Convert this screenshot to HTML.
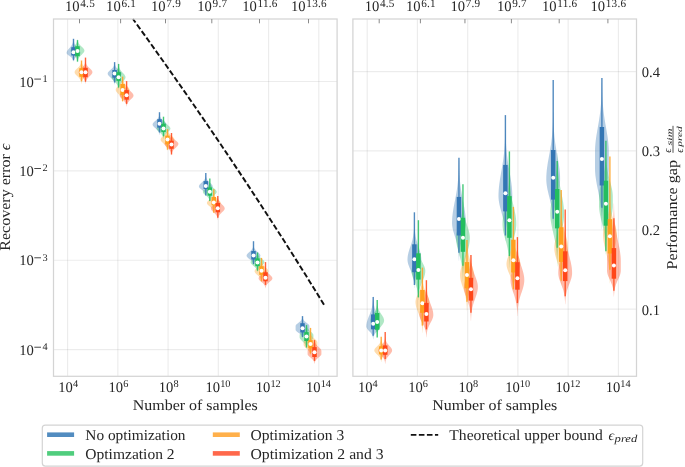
<!DOCTYPE html><html><head><meta charset="utf-8"><style>html,body{margin:0;padding:0;background:#fff;}svg{display:block;will-change:transform;}text{font-family:"Liberation Serif",serif;fill:#262626;text-rendering:geometricPrecision;}</style></head><body>
<svg width="685" height="467" viewBox="0 0 685 467">
<defs><clipPath id="c0"><rect x="53.5" y="19" width="283.6" height="357.3"/></clipPath></defs>
<line x1="67.60" y1="19.0" x2="67.60" y2="376.3" stroke="#000" stroke-opacity="0.075" stroke-width="1.2"/>
<line x1="117.84" y1="19.0" x2="117.84" y2="376.3" stroke="#000" stroke-opacity="0.075" stroke-width="1.2"/>
<line x1="168.08" y1="19.0" x2="168.08" y2="376.3" stroke="#000" stroke-opacity="0.075" stroke-width="1.2"/>
<line x1="218.32" y1="19.0" x2="218.32" y2="376.3" stroke="#000" stroke-opacity="0.075" stroke-width="1.2"/>
<line x1="268.56" y1="19.0" x2="268.56" y2="376.3" stroke="#000" stroke-opacity="0.075" stroke-width="1.2"/>
<line x1="318.80" y1="19.0" x2="318.80" y2="376.3" stroke="#000" stroke-opacity="0.075" stroke-width="1.2"/>
<line x1="53.5" y1="81.50" x2="337.1" y2="81.50" stroke="#000" stroke-opacity="0.075" stroke-width="1.2"/>
<line x1="53.5" y1="170.87" x2="337.1" y2="170.87" stroke="#000" stroke-opacity="0.075" stroke-width="1.2"/>
<line x1="53.5" y1="260.24" x2="337.1" y2="260.24" stroke="#000" stroke-opacity="0.075" stroke-width="1.2"/>
<line x1="53.5" y1="349.61" x2="337.1" y2="349.61" stroke="#000" stroke-opacity="0.075" stroke-width="1.2"/>
<line x1="367.20" y1="19.0" x2="367.20" y2="376.3" stroke="#000" stroke-opacity="0.075" stroke-width="1.2"/>
<line x1="417.44" y1="19.0" x2="417.44" y2="376.3" stroke="#000" stroke-opacity="0.075" stroke-width="1.2"/>
<line x1="467.68" y1="19.0" x2="467.68" y2="376.3" stroke="#000" stroke-opacity="0.075" stroke-width="1.2"/>
<line x1="517.92" y1="19.0" x2="517.92" y2="376.3" stroke="#000" stroke-opacity="0.075" stroke-width="1.2"/>
<line x1="568.16" y1="19.0" x2="568.16" y2="376.3" stroke="#000" stroke-opacity="0.075" stroke-width="1.2"/>
<line x1="618.40" y1="19.0" x2="618.40" y2="376.3" stroke="#000" stroke-opacity="0.075" stroke-width="1.2"/>
<line x1="352.9" y1="309.20" x2="636.5" y2="309.20" stroke="#000" stroke-opacity="0.075" stroke-width="1.2"/>
<line x1="352.9" y1="230.00" x2="636.5" y2="230.00" stroke="#000" stroke-opacity="0.075" stroke-width="1.2"/>
<line x1="352.9" y1="150.80" x2="636.5" y2="150.80" stroke="#000" stroke-opacity="0.075" stroke-width="1.2"/>
<line x1="352.9" y1="71.60" x2="636.5" y2="71.60" stroke="#000" stroke-opacity="0.075" stroke-width="1.2"/>
<path d="M73.60,39.08 L73.63,39.45 L73.66,39.82 L73.70,40.20 L73.74,40.57 L73.79,40.94 L73.86,41.31 L73.93,41.69 L74.01,42.06 L74.11,42.43 L74.22,42.80 L74.35,43.17 L74.49,43.55 L74.65,43.92 L74.83,44.29 L75.03,44.66 L75.24,45.03 L75.47,45.41 L75.73,45.78 L75.99,46.15 L76.28,46.52 L76.57,46.90 L76.88,47.27 L77.20,47.64 L77.52,48.01 L77.85,48.38 L78.17,48.76 L78.48,49.13 L78.79,49.50 L79.08,49.87 L79.35,50.24 L79.60,50.62 L79.82,50.99 L80.01,51.36 L80.16,51.73 L80.28,52.11 L80.36,52.48 L80.40,52.85 L80.40,53.00 L80.38,53.22 L80.26,53.59 L80.03,53.97 L79.70,54.34 L79.30,54.71 L78.83,55.08 L78.32,55.46 L77.79,55.83 L77.25,56.20 L76.73,56.57 L76.24,56.94 L75.78,57.32 L75.37,57.69 L75.01,58.06 L74.69,58.43 L74.43,58.80 L74.21,59.18 L74.04,59.55 L73.90,59.92 L73.79,60.29 L73.71,60.67 L73.65,61.04 L73.60,61.41 L73.40,61.41 L73.35,61.04 L73.29,60.67 L73.21,60.29 L73.10,59.92 L72.96,59.55 L72.79,59.18 L72.57,58.80 L72.31,58.43 L71.99,58.06 L71.63,57.69 L71.22,57.32 L70.76,56.94 L70.27,56.57 L69.75,56.20 L69.21,55.83 L68.68,55.46 L68.17,55.08 L67.70,54.71 L67.30,54.34 L66.97,53.97 L66.74,53.59 L66.62,53.22 L66.60,53.00 L66.60,52.85 L66.64,52.48 L66.72,52.11 L66.84,51.73 L66.99,51.36 L67.18,50.99 L67.40,50.62 L67.65,50.24 L67.92,49.87 L68.21,49.50 L68.52,49.13 L68.83,48.76 L69.15,48.38 L69.48,48.01 L69.80,47.64 L70.12,47.27 L70.43,46.90 L70.72,46.52 L71.01,46.15 L71.27,45.78 L71.53,45.41 L71.76,45.03 L71.97,44.66 L72.17,44.29 L72.35,43.92 L72.51,43.55 L72.65,43.17 L72.78,42.80 L72.89,42.43 L72.99,42.06 L73.07,41.69 L73.14,41.31 L73.21,40.94 L73.26,40.57 L73.30,40.20 L73.34,39.82 L73.37,39.45 L73.40,39.08Z" fill="#3476b4" fill-opacity="0.36"/>
<path d="M77.60,39.29 L77.64,39.67 L77.68,40.06 L77.73,40.44 L77.80,40.83 L77.88,41.21 L77.98,41.59 L78.10,41.98 L78.24,42.36 L78.41,42.74 L78.60,43.13 L78.82,43.51 L79.07,43.90 L79.36,44.28 L79.67,44.66 L80.00,45.05 L80.37,45.43 L80.75,45.81 L81.15,46.20 L81.56,46.58 L81.97,46.97 L82.37,47.35 L82.77,47.73 L83.13,48.12 L83.47,48.50 L83.76,48.88 L84.01,49.27 L84.20,49.65 L84.33,50.04 L84.39,50.42 L84.40,50.60 L84.39,50.80 L84.33,51.19 L84.20,51.57 L84.02,51.95 L83.79,52.34 L83.51,52.72 L83.19,53.11 L82.84,53.49 L82.47,53.87 L82.08,54.26 L81.68,54.64 L81.29,55.02 L80.90,55.41 L80.52,55.79 L80.16,56.18 L79.82,56.56 L79.51,56.94 L79.23,57.33 L78.97,57.71 L78.73,58.09 L78.53,58.48 L78.35,58.86 L78.20,59.25 L78.07,59.63 L77.96,60.01 L77.86,60.40 L77.79,60.78 L77.73,61.16 L77.68,61.55 L77.63,61.93 L77.60,62.32 L77.40,62.32 L77.37,61.93 L77.32,61.55 L77.27,61.16 L77.21,60.78 L77.14,60.40 L77.04,60.01 L76.93,59.63 L76.80,59.25 L76.65,58.86 L76.47,58.48 L76.27,58.09 L76.03,57.71 L75.77,57.33 L75.49,56.94 L75.18,56.56 L74.84,56.18 L74.48,55.79 L74.10,55.41 L73.71,55.02 L73.32,54.64 L72.92,54.26 L72.53,53.87 L72.16,53.49 L71.81,53.11 L71.49,52.72 L71.21,52.34 L70.98,51.95 L70.80,51.57 L70.67,51.19 L70.61,50.80 L70.60,50.60 L70.61,50.42 L70.67,50.04 L70.80,49.65 L70.99,49.27 L71.24,48.88 L71.53,48.50 L71.87,48.12 L72.23,47.73 L72.63,47.35 L73.03,46.97 L73.44,46.58 L73.85,46.20 L74.25,45.81 L74.63,45.43 L75.00,45.05 L75.33,44.66 L75.64,44.28 L75.93,43.90 L76.18,43.51 L76.40,43.13 L76.59,42.74 L76.76,42.36 L76.90,41.98 L77.02,41.59 L77.12,41.21 L77.20,40.83 L77.27,40.44 L77.32,40.06 L77.36,39.67 L77.40,39.29Z" fill="#23be5f" fill-opacity="0.36"/>
<path d="M81.60,60.77 L81.64,61.16 L81.68,61.54 L81.73,61.92 L81.80,62.31 L81.87,62.69 L81.97,63.07 L82.09,63.46 L82.23,63.84 L82.39,64.22 L82.58,64.61 L82.79,64.99 L83.04,65.37 L83.31,65.76 L83.61,66.14 L83.94,66.52 L84.30,66.91 L84.67,67.29 L85.07,67.67 L85.47,68.06 L85.88,68.44 L86.28,68.82 L86.67,69.21 L87.04,69.59 L87.38,69.97 L87.68,70.36 L87.94,70.74 L88.15,71.12 L88.29,71.51 L88.38,71.89 L88.40,72.20 L88.40,72.27 L88.36,72.66 L88.25,73.04 L88.08,73.42 L87.86,73.81 L87.59,74.19 L87.28,74.57 L86.94,74.96 L86.56,75.34 L86.17,75.72 L85.77,76.11 L85.37,76.49 L84.98,76.87 L84.59,77.26 L84.23,77.64 L83.88,78.02 L83.56,78.41 L83.27,78.79 L83.00,79.17 L82.76,79.55 L82.55,79.94 L82.37,80.32 L82.21,80.70 L82.08,81.09 L81.96,81.47 L81.87,81.85 L81.79,82.24 L81.73,82.62 L81.68,83.00 L81.64,83.39 L81.60,83.77 L81.40,83.77 L81.36,83.39 L81.32,83.00 L81.27,82.62 L81.21,82.24 L81.13,81.85 L81.04,81.47 L80.92,81.09 L80.79,80.70 L80.63,80.32 L80.45,79.94 L80.24,79.55 L80.00,79.17 L79.73,78.79 L79.44,78.41 L79.12,78.02 L78.77,77.64 L78.41,77.26 L78.02,76.87 L77.63,76.49 L77.23,76.11 L76.83,75.72 L76.44,75.34 L76.06,74.96 L75.72,74.57 L75.41,74.19 L75.14,73.81 L74.92,73.42 L74.75,73.04 L74.64,72.66 L74.60,72.27 L74.60,72.20 L74.62,71.89 L74.71,71.51 L74.85,71.12 L75.06,70.74 L75.32,70.36 L75.62,69.97 L75.96,69.59 L76.33,69.21 L76.72,68.82 L77.12,68.44 L77.53,68.06 L77.93,67.67 L78.33,67.29 L78.70,66.91 L79.06,66.52 L79.39,66.14 L79.69,65.76 L79.96,65.37 L80.21,64.99 L80.42,64.61 L80.61,64.22 L80.77,63.84 L80.91,63.46 L81.03,63.07 L81.13,62.69 L81.20,62.31 L81.27,61.92 L81.32,61.54 L81.36,61.16 L81.40,60.77Z" fill="#ffa01e" fill-opacity="0.36"/>
<path d="M85.60,60.77 L85.64,61.16 L85.68,61.54 L85.73,61.92 L85.80,62.31 L85.87,62.69 L85.97,63.07 L86.09,63.46 L86.23,63.84 L86.39,64.22 L86.58,64.61 L86.79,64.99 L87.04,65.37 L87.31,65.76 L87.61,66.14 L87.94,66.52 L88.30,66.91 L88.67,67.29 L89.07,67.67 L89.47,68.06 L89.88,68.44 L90.28,68.82 L90.67,69.21 L91.04,69.59 L91.38,69.97 L91.68,70.36 L91.94,70.74 L92.15,71.12 L92.29,71.51 L92.38,71.89 L92.40,72.20 L92.40,72.27 L92.36,72.66 L92.25,73.04 L92.08,73.42 L91.86,73.81 L91.59,74.19 L91.28,74.57 L90.94,74.96 L90.56,75.34 L90.17,75.72 L89.77,76.11 L89.37,76.49 L88.98,76.87 L88.59,77.26 L88.23,77.64 L87.88,78.02 L87.56,78.41 L87.27,78.79 L87.00,79.17 L86.76,79.55 L86.55,79.94 L86.37,80.32 L86.21,80.70 L86.08,81.09 L85.96,81.47 L85.87,81.85 L85.79,82.24 L85.73,82.62 L85.68,83.00 L85.64,83.39 L85.60,83.77 L85.40,83.77 L85.36,83.39 L85.32,83.00 L85.27,82.62 L85.21,82.24 L85.13,81.85 L85.04,81.47 L84.92,81.09 L84.79,80.70 L84.63,80.32 L84.45,79.94 L84.24,79.55 L84.00,79.17 L83.73,78.79 L83.44,78.41 L83.12,78.02 L82.77,77.64 L82.41,77.26 L82.02,76.87 L81.63,76.49 L81.23,76.11 L80.83,75.72 L80.44,75.34 L80.06,74.96 L79.72,74.57 L79.41,74.19 L79.14,73.81 L78.92,73.42 L78.75,73.04 L78.64,72.66 L78.60,72.27 L78.60,72.20 L78.62,71.89 L78.71,71.51 L78.85,71.12 L79.06,70.74 L79.32,70.36 L79.62,69.97 L79.96,69.59 L80.33,69.21 L80.72,68.82 L81.12,68.44 L81.53,68.06 L81.93,67.67 L82.33,67.29 L82.70,66.91 L83.06,66.52 L83.39,66.14 L83.69,65.76 L83.96,65.37 L84.21,64.99 L84.42,64.61 L84.61,64.22 L84.77,63.84 L84.91,63.46 L85.03,63.07 L85.13,62.69 L85.20,62.31 L85.27,61.92 L85.32,61.54 L85.36,61.16 L85.40,60.77Z" fill="#ff4619" fill-opacity="0.36"/>
<path d="M114.70,62.99 L114.74,63.35 L114.78,63.71 L114.83,64.07 L114.90,64.43 L114.98,64.79 L115.08,65.15 L115.20,65.51 L115.34,65.87 L115.51,66.23 L115.70,66.59 L115.93,66.95 L116.18,67.31 L116.46,67.67 L116.77,68.03 L117.11,68.39 L117.47,68.76 L117.86,69.12 L118.26,69.48 L118.67,69.84 L119.08,70.20 L119.48,70.56 L119.88,70.92 L120.24,71.28 L120.58,71.64 L120.87,72.00 L121.12,72.36 L121.30,72.72 L121.43,73.08 L121.49,73.44 L121.50,73.60 L121.49,73.80 L121.42,74.16 L121.30,74.52 L121.12,74.88 L120.88,75.25 L120.60,75.61 L120.28,75.97 L119.93,76.33 L119.56,76.69 L119.17,77.05 L118.78,77.41 L118.38,77.77 L117.99,78.13 L117.61,78.49 L117.26,78.85 L116.92,79.21 L116.61,79.57 L116.32,79.93 L116.06,80.29 L115.83,80.65 L115.63,81.01 L115.45,81.37 L115.30,81.74 L115.17,82.10 L115.06,82.46 L114.96,82.82 L114.89,83.18 L114.83,83.54 L114.78,83.90 L114.73,84.26 L114.70,84.62 L114.50,84.62 L114.47,84.26 L114.42,83.90 L114.37,83.54 L114.31,83.18 L114.24,82.82 L114.14,82.46 L114.03,82.10 L113.90,81.74 L113.75,81.37 L113.57,81.01 L113.37,80.65 L113.14,80.29 L112.88,79.93 L112.59,79.57 L112.28,79.21 L111.94,78.85 L111.59,78.49 L111.21,78.13 L110.82,77.77 L110.42,77.41 L110.03,77.05 L109.64,76.69 L109.27,76.33 L108.92,75.97 L108.60,75.61 L108.32,75.25 L108.08,74.88 L107.90,74.52 L107.78,74.16 L107.71,73.80 L107.70,73.60 L107.71,73.44 L107.77,73.08 L107.90,72.72 L108.08,72.36 L108.33,72.00 L108.62,71.64 L108.96,71.28 L109.32,70.92 L109.72,70.56 L110.12,70.20 L110.53,69.84 L110.94,69.48 L111.34,69.12 L111.73,68.76 L112.09,68.39 L112.43,68.03 L112.74,67.67 L113.02,67.31 L113.27,66.95 L113.50,66.59 L113.69,66.23 L113.86,65.87 L114.00,65.51 L114.12,65.15 L114.22,64.79 L114.30,64.43 L114.37,64.07 L114.42,63.71 L114.46,63.35 L114.50,62.99Z" fill="#3476b4" fill-opacity="0.36"/>
<path d="M118.70,64.34 L118.73,64.76 L118.77,65.17 L118.82,65.59 L118.88,66.01 L118.96,66.43 L119.05,66.85 L119.15,67.26 L119.28,67.68 L119.43,68.10 L119.60,68.52 L119.80,68.94 L120.02,69.35 L120.27,69.77 L120.55,70.19 L120.85,70.61 L121.18,71.03 L121.53,71.44 L121.89,71.86 L122.27,72.28 L122.66,72.70 L123.05,73.12 L123.44,73.53 L123.81,73.95 L124.17,74.37 L124.49,74.79 L124.78,75.21 L125.03,75.63 L125.23,76.04 L125.38,76.46 L125.47,76.88 L125.50,77.30 L125.50,77.30 L125.47,77.72 L125.36,78.13 L125.20,78.55 L124.97,78.97 L124.69,79.39 L124.36,79.81 L124.00,80.22 L123.61,80.64 L123.20,81.06 L122.79,81.48 L122.37,81.90 L121.96,82.31 L121.57,82.73 L121.19,83.15 L120.84,83.57 L120.52,83.99 L120.23,84.41 L119.97,84.82 L119.74,85.24 L119.53,85.66 L119.36,86.08 L119.21,86.50 L119.09,86.91 L118.99,87.33 L118.90,87.75 L118.83,88.17 L118.78,88.59 L118.74,89.00 L118.70,89.42 L118.50,89.42 L118.46,89.00 L118.42,88.59 L118.37,88.17 L118.30,87.75 L118.21,87.33 L118.11,86.91 L117.99,86.50 L117.84,86.08 L117.67,85.66 L117.46,85.24 L117.23,84.82 L116.97,84.41 L116.68,83.99 L116.36,83.57 L116.01,83.15 L115.63,82.73 L115.24,82.31 L114.83,81.90 L114.41,81.48 L114.00,81.06 L113.59,80.64 L113.20,80.22 L112.84,79.81 L112.51,79.39 L112.23,78.97 L112.00,78.55 L111.84,78.13 L111.73,77.72 L111.70,77.30 L111.70,77.30 L111.73,76.88 L111.82,76.46 L111.97,76.04 L112.17,75.63 L112.42,75.21 L112.71,74.79 L113.03,74.37 L113.39,73.95 L113.76,73.53 L114.15,73.12 L114.54,72.70 L114.93,72.28 L115.31,71.86 L115.67,71.44 L116.02,71.03 L116.35,70.61 L116.65,70.19 L116.93,69.77 L117.18,69.35 L117.40,68.94 L117.60,68.52 L117.77,68.10 L117.92,67.68 L118.05,67.26 L118.15,66.85 L118.24,66.43 L118.32,66.01 L118.38,65.59 L118.43,65.17 L118.47,64.76 L118.50,64.34Z" fill="#23be5f" fill-opacity="0.36"/>
<path d="M122.70,78.23 L122.74,78.62 L122.78,79.02 L122.83,79.41 L122.90,79.81 L122.98,80.20 L123.08,80.60 L123.20,80.99 L123.35,81.39 L123.52,81.78 L123.71,82.18 L123.94,82.57 L124.19,82.97 L124.48,83.36 L124.79,83.76 L125.13,84.15 L125.50,84.55 L125.89,84.94 L126.29,85.34 L126.70,85.73 L127.12,86.13 L127.52,86.52 L127.91,86.92 L128.28,87.31 L128.61,87.71 L128.90,88.10 L129.14,88.50 L129.32,88.89 L129.44,89.29 L129.50,89.68 L129.50,89.80 L129.49,90.08 L129.41,90.47 L129.28,90.87 L129.09,91.26 L128.85,91.66 L128.57,92.05 L128.25,92.44 L127.90,92.84 L127.52,93.23 L127.14,93.63 L126.74,94.02 L126.35,94.42 L125.96,94.81 L125.59,95.21 L125.23,95.60 L124.90,96.00 L124.59,96.39 L124.31,96.79 L124.05,97.18 L123.82,97.58 L123.62,97.97 L123.44,98.37 L123.29,98.76 L123.16,99.16 L123.05,99.55 L122.96,99.95 L122.89,100.34 L122.82,100.74 L122.77,101.13 L122.73,101.53 L122.70,101.92 L122.50,101.92 L122.47,101.53 L122.43,101.13 L122.38,100.74 L122.31,100.34 L122.24,99.95 L122.15,99.55 L122.04,99.16 L121.91,98.76 L121.76,98.37 L121.58,97.97 L121.38,97.58 L121.15,97.18 L120.89,96.79 L120.61,96.39 L120.30,96.00 L119.97,95.60 L119.61,95.21 L119.24,94.81 L118.85,94.42 L118.46,94.02 L118.06,93.63 L117.68,93.23 L117.30,92.84 L116.95,92.44 L116.63,92.05 L116.35,91.66 L116.11,91.26 L115.92,90.87 L115.79,90.47 L115.71,90.08 L115.70,89.80 L115.70,89.68 L115.76,89.29 L115.88,88.89 L116.06,88.50 L116.30,88.10 L116.59,87.71 L116.92,87.31 L117.29,86.92 L117.68,86.52 L118.08,86.13 L118.50,85.73 L118.91,85.34 L119.31,84.94 L119.70,84.55 L120.07,84.15 L120.41,83.76 L120.72,83.36 L121.01,82.97 L121.26,82.57 L121.49,82.18 L121.68,81.78 L121.85,81.39 L122.00,80.99 L122.12,80.60 L122.22,80.20 L122.30,79.81 L122.37,79.41 L122.42,79.02 L122.46,78.62 L122.50,78.23Z" fill="#ffa01e" fill-opacity="0.36"/>
<path d="M126.70,83.62 L126.73,84.01 L126.77,84.39 L126.82,84.77 L126.88,85.16 L126.96,85.54 L127.04,85.92 L127.15,86.31 L127.27,86.69 L127.42,87.07 L127.59,87.46 L127.78,87.84 L128.00,88.22 L128.24,88.61 L128.52,88.99 L128.81,89.37 L129.14,89.76 L129.48,90.14 L129.84,90.52 L130.22,90.91 L130.60,91.29 L130.99,91.67 L131.37,92.06 L131.75,92.44 L132.10,92.82 L132.43,93.21 L132.73,93.59 L132.98,93.97 L133.19,94.35 L133.35,94.74 L133.45,95.12 L133.50,95.50 L133.50,95.60 L133.48,95.89 L133.39,96.27 L133.24,96.65 L133.02,97.04 L132.75,97.42 L132.43,97.80 L132.07,98.19 L131.68,98.57 L131.27,98.95 L130.85,99.34 L130.43,99.72 L130.02,100.10 L129.62,100.49 L129.24,100.87 L128.88,101.25 L128.55,101.64 L128.26,102.02 L127.99,102.40 L127.75,102.79 L127.55,103.17 L127.37,103.55 L127.22,103.94 L127.10,104.32 L126.99,104.70 L126.91,105.09 L126.84,105.47 L126.78,105.85 L126.74,106.24 L126.70,106.62 L126.50,106.62 L126.46,106.24 L126.42,105.85 L126.36,105.47 L126.29,105.09 L126.21,104.70 L126.10,104.32 L125.98,103.94 L125.83,103.55 L125.65,103.17 L125.45,102.79 L125.21,102.40 L124.94,102.02 L124.65,101.64 L124.32,101.25 L123.96,100.87 L123.58,100.49 L123.18,100.10 L122.77,99.72 L122.35,99.34 L121.93,98.95 L121.52,98.57 L121.13,98.19 L120.77,97.80 L120.45,97.42 L120.18,97.04 L119.96,96.65 L119.81,96.27 L119.72,95.89 L119.70,95.60 L119.70,95.50 L119.75,95.12 L119.85,94.74 L120.01,94.35 L120.22,93.97 L120.47,93.59 L120.77,93.21 L121.10,92.82 L121.45,92.44 L121.83,92.06 L122.21,91.67 L122.60,91.29 L122.98,90.91 L123.36,90.52 L123.72,90.14 L124.06,89.76 L124.39,89.37 L124.68,88.99 L124.96,88.61 L125.20,88.22 L125.42,87.84 L125.61,87.46 L125.78,87.07 L125.93,86.69 L126.05,86.31 L126.16,85.92 L126.24,85.54 L126.32,85.16 L126.38,84.77 L126.43,84.39 L126.47,84.01 L126.50,83.62Z" fill="#ff4619" fill-opacity="0.36"/>
<path d="M159.60,114.03 L159.64,114.38 L159.68,114.73 L159.73,115.08 L159.79,115.43 L159.87,115.78 L159.97,116.12 L160.08,116.47 L160.22,116.82 L160.38,117.17 L160.56,117.52 L160.78,117.87 L161.02,118.22 L161.29,118.57 L161.59,118.92 L161.91,119.27 L162.26,119.61 L162.63,119.96 L163.02,120.31 L163.42,120.66 L163.82,121.01 L164.23,121.36 L164.62,121.71 L164.99,122.06 L165.33,122.41 L165.64,122.76 L165.90,123.10 L166.12,123.45 L166.27,123.80 L166.37,124.15 L166.40,124.50 L166.37,124.85 L166.27,125.20 L166.12,125.55 L165.90,125.90 L165.64,126.24 L165.33,126.59 L164.99,126.94 L164.62,127.29 L164.23,127.64 L163.82,127.99 L163.42,128.34 L163.02,128.69 L162.63,129.04 L162.26,129.39 L161.91,129.73 L161.59,130.08 L161.29,130.43 L161.02,130.78 L160.78,131.13 L160.56,131.48 L160.38,131.83 L160.22,132.18 L160.08,132.53 L159.97,132.88 L159.87,133.22 L159.79,133.57 L159.73,133.92 L159.68,134.27 L159.64,134.62 L159.60,134.97 L159.40,134.97 L159.36,134.62 L159.32,134.27 L159.27,133.92 L159.21,133.57 L159.13,133.22 L159.03,132.88 L158.92,132.53 L158.78,132.18 L158.62,131.83 L158.44,131.48 L158.22,131.13 L157.98,130.78 L157.71,130.43 L157.41,130.08 L157.09,129.73 L156.74,129.39 L156.37,129.04 L155.98,128.69 L155.58,128.34 L155.18,127.99 L154.77,127.64 L154.38,127.29 L154.01,126.94 L153.67,126.59 L153.36,126.24 L153.10,125.90 L152.88,125.55 L152.73,125.20 L152.63,124.85 L152.60,124.50 L152.63,124.15 L152.73,123.80 L152.88,123.45 L153.10,123.10 L153.36,122.76 L153.67,122.41 L154.01,122.06 L154.38,121.71 L154.77,121.36 L155.18,121.01 L155.58,120.66 L155.98,120.31 L156.37,119.96 L156.74,119.61 L157.09,119.27 L157.41,118.92 L157.71,118.57 L157.98,118.22 L158.22,117.87 L158.44,117.52 L158.62,117.17 L158.78,116.82 L158.92,116.47 L159.03,116.12 L159.13,115.78 L159.21,115.43 L159.27,115.08 L159.32,114.73 L159.36,114.38 L159.40,114.03Z" fill="#3476b4" fill-opacity="0.36"/>
<path d="M163.60,117.99 L163.64,118.33 L163.68,118.68 L163.73,119.03 L163.79,119.38 L163.87,119.73 L163.96,120.08 L164.07,120.43 L164.20,120.78 L164.36,121.13 L164.54,121.48 L164.74,121.82 L164.98,122.17 L165.24,122.52 L165.53,122.87 L165.84,123.22 L166.18,123.57 L166.54,123.92 L166.92,124.27 L167.32,124.62 L167.71,124.97 L168.11,125.31 L168.50,125.66 L168.87,126.01 L169.22,126.36 L169.54,126.71 L169.81,127.06 L170.04,127.41 L170.22,127.76 L170.34,128.11 L170.39,128.46 L170.40,128.60 L170.39,128.80 L170.32,129.15 L170.18,129.50 L169.99,129.85 L169.74,130.20 L169.44,130.55 L169.10,130.90 L168.73,131.25 L168.34,131.60 L167.94,131.94 L167.53,132.29 L167.12,132.64 L166.72,132.99 L166.34,133.34 L165.98,133.69 L165.65,134.04 L165.34,134.39 L165.06,134.74 L164.81,135.09 L164.59,135.43 L164.40,135.78 L164.24,136.13 L164.10,136.48 L163.98,136.83 L163.88,137.18 L163.80,137.53 L163.73,137.88 L163.68,138.23 L163.64,138.58 L163.60,138.92 L163.40,138.92 L163.36,138.58 L163.32,138.23 L163.27,137.88 L163.20,137.53 L163.12,137.18 L163.02,136.83 L162.90,136.48 L162.76,136.13 L162.60,135.78 L162.41,135.43 L162.19,135.09 L161.94,134.74 L161.66,134.39 L161.35,134.04 L161.02,133.69 L160.66,133.34 L160.28,132.99 L159.88,132.64 L159.47,132.29 L159.06,131.94 L158.66,131.60 L158.27,131.25 L157.90,130.90 L157.56,130.55 L157.26,130.20 L157.01,129.85 L156.82,129.50 L156.68,129.15 L156.61,128.80 L156.60,128.60 L156.61,128.46 L156.66,128.11 L156.78,127.76 L156.96,127.41 L157.19,127.06 L157.46,126.71 L157.78,126.36 L158.13,126.01 L158.50,125.66 L158.89,125.31 L159.29,124.97 L159.68,124.62 L160.08,124.27 L160.46,123.92 L160.82,123.57 L161.16,123.22 L161.47,122.87 L161.76,122.52 L162.02,122.17 L162.26,121.82 L162.46,121.48 L162.64,121.13 L162.80,120.78 L162.93,120.43 L163.04,120.08 L163.13,119.73 L163.21,119.38 L163.27,119.03 L163.32,118.68 L163.36,118.33 L163.40,117.99Z" fill="#23be5f" fill-opacity="0.36"/>
<path d="M167.60,129.03 L167.64,129.39 L167.68,129.75 L167.73,130.11 L167.80,130.47 L167.89,130.83 L167.99,131.19 L168.11,131.55 L168.26,131.92 L168.43,132.28 L168.63,132.64 L168.86,133.00 L169.12,133.36 L169.41,133.72 L169.73,134.08 L170.08,134.44 L170.46,134.80 L170.85,135.16 L171.26,135.52 L171.68,135.88 L172.09,136.24 L172.50,136.60 L172.89,136.96 L173.25,137.32 L173.58,137.68 L173.86,138.05 L174.09,138.41 L174.26,138.77 L174.36,139.13 L174.40,139.49 L174.40,139.50 L174.37,139.85 L174.28,140.21 L174.14,140.57 L173.94,140.93 L173.69,141.29 L173.40,141.65 L173.08,142.01 L172.72,142.37 L172.35,142.73 L171.96,143.09 L171.57,143.45 L171.18,143.81 L170.80,144.17 L170.43,144.54 L170.08,144.90 L169.76,145.26 L169.45,145.62 L169.18,145.98 L168.92,146.34 L168.70,146.70 L168.50,147.06 L168.33,147.42 L168.18,147.78 L168.06,148.14 L167.95,148.50 L167.86,148.86 L167.78,149.22 L167.72,149.58 L167.67,149.94 L167.63,150.30 L167.60,150.66 L167.40,150.66 L167.37,150.30 L167.33,149.94 L167.28,149.58 L167.22,149.22 L167.14,148.86 L167.05,148.50 L166.94,148.14 L166.82,147.78 L166.67,147.42 L166.50,147.06 L166.30,146.70 L166.08,146.34 L165.82,145.98 L165.55,145.62 L165.24,145.26 L164.92,144.90 L164.57,144.54 L164.20,144.17 L163.82,143.81 L163.43,143.45 L163.04,143.09 L162.65,142.73 L162.28,142.37 L161.92,142.01 L161.60,141.65 L161.31,141.29 L161.06,140.93 L160.86,140.57 L160.72,140.21 L160.63,139.85 L160.60,139.50 L160.60,139.49 L160.64,139.13 L160.74,138.77 L160.91,138.41 L161.14,138.05 L161.42,137.68 L161.75,137.32 L162.11,136.96 L162.50,136.60 L162.91,136.24 L163.32,135.88 L163.74,135.52 L164.15,135.16 L164.54,134.80 L164.92,134.44 L165.27,134.08 L165.59,133.72 L165.88,133.36 L166.14,133.00 L166.37,132.64 L166.57,132.28 L166.74,131.92 L166.89,131.55 L167.01,131.19 L167.11,130.83 L167.20,130.47 L167.27,130.11 L167.32,129.75 L167.36,129.39 L167.40,129.03Z" fill="#ffa01e" fill-opacity="0.36"/>
<path d="M171.60,134.29 L171.64,134.64 L171.69,134.99 L171.75,135.33 L171.82,135.68 L171.92,136.03 L172.03,136.38 L172.18,136.73 L172.35,137.08 L172.55,137.43 L172.78,137.78 L173.05,138.13 L173.35,138.48 L173.68,138.82 L174.05,139.17 L174.45,139.52 L174.87,139.87 L175.30,140.22 L175.75,140.57 L176.19,140.92 L176.62,141.27 L177.03,141.62 L177.40,141.97 L177.73,142.31 L178.00,142.66 L178.20,143.01 L178.34,143.36 L178.40,143.71 L178.40,143.80 L178.39,144.06 L178.32,144.41 L178.20,144.76 L178.03,145.11 L177.82,145.45 L177.56,145.80 L177.27,146.15 L176.95,146.50 L176.61,146.85 L176.26,147.20 L175.89,147.55 L175.52,147.90 L175.15,148.25 L174.79,148.60 L174.44,148.94 L174.11,149.29 L173.80,149.64 L173.51,149.99 L173.24,150.34 L173.00,150.69 L172.78,151.04 L172.58,151.39 L172.41,151.74 L172.26,152.09 L172.13,152.43 L172.01,152.78 L171.92,153.13 L171.84,153.48 L171.77,153.83 L171.71,154.18 L171.67,154.53 L171.63,154.88 L171.60,155.23 L171.40,155.23 L171.37,154.88 L171.33,154.53 L171.29,154.18 L171.23,153.83 L171.16,153.48 L171.08,153.13 L170.99,152.78 L170.87,152.43 L170.74,152.09 L170.59,151.74 L170.42,151.39 L170.22,151.04 L170.00,150.69 L169.76,150.34 L169.49,149.99 L169.20,149.64 L168.89,149.29 L168.56,148.94 L168.21,148.60 L167.85,148.25 L167.48,147.90 L167.11,147.55 L166.74,147.20 L166.39,146.85 L166.05,146.50 L165.73,146.15 L165.44,145.80 L165.18,145.45 L164.97,145.11 L164.80,144.76 L164.68,144.41 L164.61,144.06 L164.60,143.80 L164.60,143.71 L164.66,143.36 L164.80,143.01 L165.00,142.66 L165.27,142.31 L165.60,141.97 L165.97,141.62 L166.38,141.27 L166.81,140.92 L167.25,140.57 L167.70,140.22 L168.13,139.87 L168.55,139.52 L168.95,139.17 L169.32,138.82 L169.65,138.48 L169.95,138.13 L170.22,137.78 L170.45,137.43 L170.65,137.08 L170.82,136.73 L170.97,136.38 L171.08,136.03 L171.18,135.68 L171.25,135.33 L171.31,134.99 L171.36,134.64 L171.40,134.29Z" fill="#ff4619" fill-opacity="0.36"/>
<path d="M205.90,175.34 L205.93,175.67 L205.97,176.01 L206.01,176.35 L206.07,176.68 L206.13,177.02 L206.21,177.36 L206.31,177.70 L206.41,178.03 L206.54,178.37 L206.69,178.71 L206.86,179.05 L207.05,179.38 L207.26,179.72 L207.50,180.06 L207.76,180.40 L208.05,180.73 L208.35,181.07 L208.68,181.41 L209.02,181.74 L209.37,182.08 L209.74,182.42 L210.10,182.76 L210.47,183.09 L210.82,183.43 L211.17,183.77 L211.49,184.11 L211.78,184.44 L212.05,184.78 L212.27,185.12 L212.45,185.46 L212.58,185.79 L212.67,186.13 L212.70,186.47 L212.70,186.50 L212.67,186.81 L212.56,187.14 L212.37,187.48 L212.11,187.82 L211.80,188.15 L211.43,188.49 L211.03,188.83 L210.60,189.17 L210.15,189.50 L209.70,189.84 L209.26,190.18 L208.83,190.52 L208.42,190.85 L208.04,191.19 L207.70,191.53 L207.39,191.87 L207.11,192.20 L206.87,192.54 L206.67,192.88 L206.49,193.22 L206.34,193.55 L206.22,193.89 L206.13,194.23 L206.05,194.56 L205.99,194.90 L205.94,195.24 L205.90,195.58 L205.70,195.58 L205.66,195.24 L205.61,194.90 L205.55,194.56 L205.47,194.23 L205.38,193.89 L205.26,193.55 L205.11,193.22 L204.93,192.88 L204.73,192.54 L204.49,192.20 L204.21,191.87 L203.90,191.53 L203.56,191.19 L203.18,190.85 L202.77,190.52 L202.34,190.18 L201.90,189.84 L201.45,189.50 L201.00,189.17 L200.57,188.83 L200.17,188.49 L199.80,188.15 L199.49,187.82 L199.23,187.48 L199.04,187.14 L198.93,186.81 L198.90,186.50 L198.90,186.47 L198.93,186.13 L199.02,185.79 L199.15,185.46 L199.33,185.12 L199.55,184.78 L199.82,184.44 L200.11,184.11 L200.43,183.77 L200.78,183.43 L201.13,183.09 L201.50,182.76 L201.86,182.42 L202.23,182.08 L202.58,181.74 L202.92,181.41 L203.25,181.07 L203.55,180.73 L203.84,180.40 L204.10,180.06 L204.34,179.72 L204.55,179.38 L204.74,179.05 L204.91,178.71 L205.06,178.37 L205.19,178.03 L205.29,177.70 L205.39,177.36 L205.47,177.02 L205.53,176.68 L205.59,176.35 L205.63,176.01 L205.67,175.67 L205.70,175.34Z" fill="#3476b4" fill-opacity="0.36"/>
<path d="M209.90,181.58 L209.93,181.91 L209.98,182.25 L210.03,182.59 L210.09,182.93 L210.16,183.26 L210.26,183.60 L210.37,183.94 L210.50,184.27 L210.65,184.61 L210.83,184.95 L211.03,185.29 L211.26,185.62 L211.52,185.96 L211.80,186.30 L212.11,186.64 L212.45,186.97 L212.81,187.31 L213.18,187.65 L213.57,187.99 L213.97,188.32 L214.36,188.66 L214.75,189.00 L215.12,189.34 L215.47,189.67 L215.79,190.01 L216.07,190.35 L216.31,190.68 L216.49,191.02 L216.62,191.36 L216.69,191.70 L216.70,191.90 L216.69,192.03 L216.63,192.37 L216.51,192.71 L216.32,193.05 L216.08,193.38 L215.79,193.72 L215.45,194.06 L215.09,194.40 L214.70,194.73 L214.29,195.07 L213.88,195.41 L213.47,195.75 L213.07,196.08 L212.68,196.42 L212.32,196.76 L211.98,197.09 L211.66,197.43 L211.38,197.77 L211.13,198.11 L210.91,198.44 L210.71,198.78 L210.54,199.12 L210.40,199.46 L210.28,199.79 L210.18,200.13 L210.10,200.47 L210.03,200.81 L209.98,201.14 L209.94,201.48 L209.90,201.82 L209.70,201.82 L209.66,201.48 L209.62,201.14 L209.57,200.81 L209.50,200.47 L209.42,200.13 L209.32,199.79 L209.20,199.46 L209.06,199.12 L208.89,198.78 L208.69,198.44 L208.47,198.11 L208.22,197.77 L207.94,197.43 L207.62,197.09 L207.28,196.76 L206.92,196.42 L206.53,196.08 L206.13,195.75 L205.72,195.41 L205.31,195.07 L204.90,194.73 L204.51,194.40 L204.15,194.06 L203.81,193.72 L203.52,193.38 L203.28,193.05 L203.09,192.71 L202.97,192.37 L202.91,192.03 L202.90,191.90 L202.91,191.70 L202.98,191.36 L203.11,191.02 L203.29,190.68 L203.53,190.35 L203.81,190.01 L204.13,189.67 L204.48,189.34 L204.85,189.00 L205.24,188.66 L205.63,188.32 L206.03,187.99 L206.42,187.65 L206.79,187.31 L207.15,186.97 L207.49,186.64 L207.80,186.30 L208.08,185.96 L208.34,185.62 L208.57,185.29 L208.77,184.95 L208.95,184.61 L209.10,184.27 L209.23,183.94 L209.34,183.60 L209.44,183.26 L209.51,182.93 L209.57,182.59 L209.62,182.25 L209.67,181.91 L209.70,181.58Z" fill="#23be5f" fill-opacity="0.36"/>
<path d="M213.90,192.53 L213.93,192.87 L213.97,193.21 L214.02,193.54 L214.08,193.88 L214.16,194.22 L214.25,194.56 L214.35,194.89 L214.48,195.23 L214.63,195.57 L214.80,195.90 L215.00,196.24 L215.22,196.58 L215.47,196.92 L215.74,197.25 L216.05,197.59 L216.37,197.93 L216.72,198.27 L217.09,198.60 L217.47,198.94 L217.86,199.28 L218.25,199.62 L218.63,199.95 L219.01,200.29 L219.36,200.63 L219.69,200.97 L219.98,201.30 L220.23,201.64 L220.43,201.98 L220.58,202.31 L220.67,202.65 L220.70,202.99 L220.70,203.00 L220.67,203.33 L220.57,203.66 L220.40,204.00 L220.18,204.34 L219.90,204.68 L219.57,205.01 L219.21,205.35 L218.82,205.69 L218.41,206.03 L217.99,206.36 L217.58,206.70 L217.17,207.04 L216.77,207.38 L216.40,207.71 L216.05,208.05 L215.72,208.39 L215.43,208.72 L215.17,209.06 L214.94,209.40 L214.74,209.74 L214.56,210.07 L214.41,210.41 L214.29,210.75 L214.19,211.09 L214.10,211.42 L214.04,211.76 L213.98,212.10 L213.94,212.44 L213.90,212.77 L213.70,212.77 L213.66,212.44 L213.62,212.10 L213.56,211.76 L213.50,211.42 L213.41,211.09 L213.31,210.75 L213.19,210.41 L213.04,210.07 L212.86,209.74 L212.66,209.40 L212.43,209.06 L212.17,208.72 L211.88,208.39 L211.55,208.05 L211.20,207.71 L210.83,207.38 L210.43,207.04 L210.02,206.70 L209.61,206.36 L209.19,206.03 L208.78,205.69 L208.39,205.35 L208.03,205.01 L207.70,204.68 L207.42,204.34 L207.20,204.00 L207.03,203.66 L206.93,203.33 L206.90,203.00 L206.90,202.99 L206.93,202.65 L207.02,202.31 L207.17,201.98 L207.37,201.64 L207.62,201.30 L207.91,200.97 L208.24,200.63 L208.59,200.29 L208.97,199.95 L209.35,199.62 L209.74,199.28 L210.13,198.94 L210.51,198.60 L210.88,198.27 L211.23,197.93 L211.55,197.59 L211.86,197.25 L212.13,196.92 L212.38,196.58 L212.60,196.24 L212.80,195.90 L212.97,195.57 L213.12,195.23 L213.25,194.89 L213.35,194.56 L213.44,194.22 L213.52,193.88 L213.58,193.54 L213.63,193.21 L213.67,192.87 L213.70,192.53Z" fill="#ffa01e" fill-opacity="0.36"/>
<path d="M217.90,196.64 L217.93,197.02 L217.97,197.41 L218.02,197.79 L218.08,198.17 L218.16,198.56 L218.25,198.94 L218.36,199.33 L218.48,199.71 L218.63,200.09 L218.81,200.48 L219.01,200.86 L219.23,201.24 L219.48,201.63 L219.76,202.01 L220.07,202.40 L220.39,202.78 L220.75,203.16 L221.11,203.55 L221.50,203.93 L221.89,204.31 L222.28,204.70 L222.67,205.08 L223.04,205.47 L223.39,205.85 L223.72,206.23 L224.01,206.62 L224.25,207.00 L224.45,207.38 L224.59,207.77 L224.68,208.15 L224.70,208.50 L224.70,208.54 L224.66,208.92 L224.55,209.30 L224.38,209.69 L224.15,210.07 L223.87,210.45 L223.54,210.84 L223.17,211.22 L222.78,211.61 L222.38,211.99 L221.96,212.37 L221.54,212.76 L221.14,213.14 L220.74,213.52 L220.37,213.91 L220.03,214.29 L219.71,214.68 L219.42,215.06 L219.16,215.44 L218.93,215.83 L218.73,216.21 L218.56,216.59 L218.41,216.98 L218.29,217.36 L218.19,217.75 L218.10,218.13 L218.03,218.51 L217.98,218.90 L217.94,219.28 L217.90,219.66 L217.70,219.66 L217.66,219.28 L217.62,218.90 L217.57,218.51 L217.50,218.13 L217.41,217.75 L217.31,217.36 L217.19,216.98 L217.04,216.59 L216.87,216.21 L216.67,215.83 L216.44,215.44 L216.18,215.06 L215.89,214.68 L215.57,214.29 L215.23,213.91 L214.86,213.52 L214.46,213.14 L214.06,212.76 L213.64,212.37 L213.22,211.99 L212.82,211.61 L212.43,211.22 L212.06,210.84 L211.73,210.45 L211.45,210.07 L211.22,209.69 L211.05,209.30 L210.94,208.92 L210.90,208.54 L210.90,208.50 L210.92,208.15 L211.01,207.77 L211.15,207.38 L211.35,207.00 L211.59,206.62 L211.88,206.23 L212.21,205.85 L212.56,205.47 L212.93,205.08 L213.32,204.70 L213.71,204.31 L214.10,203.93 L214.49,203.55 L214.85,203.16 L215.21,202.78 L215.53,202.40 L215.84,202.01 L216.12,201.63 L216.37,201.24 L216.59,200.86 L216.79,200.48 L216.97,200.09 L217.12,199.71 L217.24,199.33 L217.35,198.94 L217.44,198.56 L217.52,198.17 L217.58,197.79 L217.63,197.41 L217.67,197.02 L217.70,196.64Z" fill="#ff4619" fill-opacity="0.36"/>
<path d="M253.60,244.97 L253.63,245.31 L253.67,245.64 L253.72,245.98 L253.78,246.32 L253.85,246.66 L253.93,246.99 L254.03,247.33 L254.15,247.67 L254.29,248.01 L254.46,248.34 L254.64,248.68 L254.85,249.02 L255.09,249.36 L255.35,249.69 L255.63,250.03 L255.94,250.37 L256.27,250.71 L256.62,251.04 L256.99,251.38 L257.37,251.72 L257.75,252.05 L258.13,252.39 L258.50,252.73 L258.86,253.07 L259.19,253.40 L259.50,253.74 L259.77,254.08 L260.00,254.42 L260.18,254.75 L260.31,255.09 L260.38,255.43 L260.40,255.70 L260.40,255.77 L260.35,256.10 L260.23,256.44 L260.04,256.78 L259.79,257.12 L259.48,257.45 L259.13,257.79 L258.75,258.13 L258.34,258.46 L257.91,258.80 L257.48,259.14 L257.06,259.48 L256.64,259.81 L256.25,260.15 L255.88,260.49 L255.53,260.83 L255.22,261.16 L254.94,261.50 L254.70,261.84 L254.48,262.18 L254.30,262.51 L254.14,262.85 L254.01,263.19 L253.90,263.53 L253.81,263.86 L253.74,264.20 L253.68,264.54 L253.64,264.87 L253.60,265.21 L253.40,265.21 L253.36,264.87 L253.32,264.54 L253.26,264.20 L253.19,263.86 L253.10,263.53 L252.99,263.19 L252.86,262.85 L252.70,262.51 L252.52,262.18 L252.30,261.84 L252.06,261.50 L251.78,261.16 L251.47,260.83 L251.12,260.49 L250.75,260.15 L250.36,259.81 L249.94,259.48 L249.52,259.14 L249.09,258.80 L248.66,258.46 L248.25,258.13 L247.87,257.79 L247.52,257.45 L247.21,257.12 L246.96,256.78 L246.77,256.44 L246.65,256.10 L246.60,255.77 L246.60,255.70 L246.62,255.43 L246.69,255.09 L246.82,254.75 L247.00,254.42 L247.23,254.08 L247.50,253.74 L247.81,253.40 L248.14,253.07 L248.50,252.73 L248.87,252.39 L249.25,252.05 L249.63,251.72 L250.01,251.38 L250.38,251.04 L250.73,250.71 L251.06,250.37 L251.37,250.03 L251.65,249.69 L251.91,249.36 L252.15,249.02 L252.36,248.68 L252.54,248.34 L252.71,248.01 L252.85,247.67 L252.97,247.33 L253.07,246.99 L253.15,246.66 L253.22,246.32 L253.28,245.98 L253.33,245.64 L253.37,245.31 L253.40,244.97Z" fill="#3476b4" fill-opacity="0.36"/>
<path d="M257.60,252.14 L257.64,252.47 L257.68,252.81 L257.73,253.15 L257.79,253.49 L257.87,253.82 L257.97,254.16 L258.09,254.50 L258.23,254.84 L258.39,255.17 L258.58,255.51 L258.79,255.85 L259.04,256.19 L259.31,256.52 L259.61,256.86 L259.94,257.20 L260.29,257.53 L260.67,257.87 L261.06,258.21 L261.46,258.55 L261.87,258.88 L262.27,259.22 L262.66,259.56 L263.04,259.90 L263.38,260.23 L263.68,260.57 L263.94,260.91 L264.14,261.25 L264.29,261.58 L264.38,261.92 L264.40,262.20 L264.40,262.26 L264.36,262.60 L264.25,262.93 L264.09,263.27 L263.87,263.61 L263.60,263.94 L263.29,264.28 L262.94,264.62 L262.57,264.96 L262.18,265.29 L261.78,265.63 L261.38,265.97 L260.98,266.31 L260.60,266.64 L260.23,266.98 L259.88,267.32 L259.56,267.66 L259.27,267.99 L259.00,268.33 L258.76,268.67 L258.55,269.01 L258.37,269.34 L258.21,269.68 L258.08,270.02 L257.96,270.35 L257.87,270.69 L257.79,271.03 L257.73,271.37 L257.68,271.70 L257.64,272.04 L257.60,272.38 L257.40,272.38 L257.36,272.04 L257.32,271.70 L257.27,271.37 L257.21,271.03 L257.13,270.69 L257.04,270.35 L256.92,270.02 L256.79,269.68 L256.63,269.34 L256.45,269.01 L256.24,268.67 L256.00,268.33 L255.73,267.99 L255.44,267.66 L255.12,267.32 L254.77,266.98 L254.40,266.64 L254.02,266.31 L253.62,265.97 L253.22,265.63 L252.82,265.29 L252.43,264.96 L252.06,264.62 L251.71,264.28 L251.40,263.94 L251.13,263.61 L250.91,263.27 L250.75,262.93 L250.64,262.60 L250.60,262.26 L250.60,262.20 L250.62,261.92 L250.71,261.58 L250.86,261.25 L251.06,260.91 L251.32,260.57 L251.62,260.23 L251.96,259.90 L252.34,259.56 L252.73,259.22 L253.13,258.88 L253.54,258.55 L253.94,258.21 L254.33,257.87 L254.71,257.53 L255.06,257.20 L255.39,256.86 L255.69,256.52 L255.96,256.19 L256.21,255.85 L256.42,255.51 L256.61,255.17 L256.77,254.84 L256.91,254.50 L257.03,254.16 L257.13,253.82 L257.21,253.49 L257.27,253.15 L257.32,252.81 L257.36,252.47 L257.40,252.14Z" fill="#23be5f" fill-opacity="0.36"/>
<path d="M261.60,260.47 L261.64,260.83 L261.68,261.19 L261.73,261.55 L261.80,261.91 L261.88,262.27 L261.97,262.63 L262.09,262.99 L262.23,263.35 L262.39,263.71 L262.58,264.07 L262.79,264.43 L263.04,264.79 L263.31,265.15 L263.62,265.51 L263.95,265.87 L264.30,266.23 L264.68,266.59 L265.07,266.95 L265.47,267.31 L265.88,267.67 L266.28,268.03 L266.67,268.39 L267.04,268.75 L267.38,269.11 L267.69,269.47 L267.94,269.83 L268.15,270.19 L268.30,270.55 L268.38,270.91 L268.40,271.20 L268.40,271.27 L268.35,271.63 L268.25,271.99 L268.08,272.35 L267.86,272.71 L267.59,273.07 L267.28,273.43 L266.93,273.79 L266.56,274.15 L266.17,274.51 L265.77,274.87 L265.37,275.23 L264.97,275.59 L264.59,275.95 L264.22,276.31 L263.88,276.67 L263.56,277.03 L263.26,277.39 L263.00,277.75 L262.76,278.11 L262.55,278.47 L262.37,278.83 L262.21,279.19 L262.08,279.55 L261.96,279.91 L261.87,280.27 L261.79,280.63 L261.73,280.99 L261.68,281.35 L261.64,281.71 L261.60,282.07 L261.40,282.07 L261.36,281.71 L261.32,281.35 L261.27,280.99 L261.21,280.63 L261.13,280.27 L261.04,279.91 L260.92,279.55 L260.79,279.19 L260.63,278.83 L260.45,278.47 L260.24,278.11 L260.00,277.75 L259.74,277.39 L259.44,277.03 L259.12,276.67 L258.78,276.31 L258.41,275.95 L258.03,275.59 L257.63,275.23 L257.23,274.87 L256.83,274.51 L256.44,274.15 L256.07,273.79 L255.72,273.43 L255.41,273.07 L255.14,272.71 L254.92,272.35 L254.75,271.99 L254.65,271.63 L254.60,271.27 L254.60,271.20 L254.62,270.91 L254.70,270.55 L254.85,270.19 L255.06,269.83 L255.31,269.47 L255.62,269.11 L255.96,268.75 L256.33,268.39 L256.72,268.03 L257.12,267.67 L257.53,267.31 L257.93,266.95 L258.32,266.59 L258.70,266.23 L259.05,265.87 L259.38,265.51 L259.69,265.15 L259.96,264.79 L260.21,264.43 L260.42,264.07 L260.61,263.71 L260.77,263.35 L260.91,262.99 L261.03,262.63 L261.12,262.27 L261.20,261.91 L261.27,261.55 L261.32,261.19 L261.36,260.83 L261.40,260.47Z" fill="#ffa01e" fill-opacity="0.36"/>
<path d="M265.60,267.38 L265.63,267.73 L265.67,268.08 L265.72,268.43 L265.78,268.78 L265.85,269.12 L265.94,269.47 L266.04,269.82 L266.16,270.17 L266.30,270.52 L266.47,270.87 L266.66,271.22 L266.87,271.57 L267.11,271.92 L267.37,272.27 L267.67,272.61 L267.98,272.96 L268.32,273.31 L268.67,273.66 L269.04,274.01 L269.42,274.36 L269.80,274.71 L270.19,275.06 L270.56,275.41 L270.92,275.76 L271.25,276.10 L271.55,276.45 L271.82,276.80 L272.04,277.15 L272.21,277.50 L272.33,277.85 L272.39,278.20 L272.40,278.40 L272.39,278.55 L272.33,278.90 L272.19,279.24 L271.99,279.59 L271.73,279.94 L271.42,280.29 L271.07,280.64 L270.68,280.99 L270.27,281.34 L269.85,281.69 L269.42,282.04 L269.00,282.39 L268.59,282.73 L268.20,283.08 L267.84,283.43 L267.50,283.78 L267.20,284.13 L266.92,284.48 L266.68,284.83 L266.47,285.18 L266.29,285.53 L266.13,285.88 L266.00,286.22 L265.90,286.57 L265.81,286.92 L265.74,287.27 L265.68,287.62 L265.64,287.97 L265.60,288.32 L265.40,288.32 L265.36,287.97 L265.32,287.62 L265.26,287.27 L265.19,286.92 L265.10,286.57 L265.00,286.22 L264.87,285.88 L264.71,285.53 L264.53,285.18 L264.32,284.83 L264.08,284.48 L263.80,284.13 L263.50,283.78 L263.16,283.43 L262.80,283.08 L262.41,282.73 L262.00,282.39 L261.58,282.04 L261.15,281.69 L260.73,281.34 L260.32,280.99 L259.93,280.64 L259.58,280.29 L259.27,279.94 L259.01,279.59 L258.81,279.24 L258.67,278.90 L258.61,278.55 L258.60,278.40 L258.61,278.20 L258.67,277.85 L258.79,277.50 L258.96,277.15 L259.18,276.80 L259.45,276.45 L259.75,276.10 L260.08,275.76 L260.44,275.41 L260.81,275.06 L261.20,274.71 L261.58,274.36 L261.96,274.01 L262.33,273.66 L262.68,273.31 L263.02,272.96 L263.33,272.61 L263.63,272.27 L263.89,271.92 L264.13,271.57 L264.34,271.22 L264.53,270.87 L264.70,270.52 L264.84,270.17 L264.96,269.82 L265.06,269.47 L265.15,269.12 L265.22,268.78 L265.28,268.43 L265.33,268.08 L265.37,267.73 L265.40,267.38Z" fill="#ff4619" fill-opacity="0.36"/>
<path d="M302.60,316.82 L302.64,317.18 L302.69,317.54 L302.76,317.90 L302.84,318.26 L302.95,318.62 L303.08,318.98 L303.24,319.34 L303.43,319.70 L303.66,320.06 L303.93,320.42 L304.23,320.78 L304.57,321.14 L304.95,321.50 L305.36,321.86 L305.80,322.21 L306.26,322.57 L306.73,322.93 L307.20,323.29 L307.65,323.65 L308.08,324.01 L308.46,324.37 L308.80,324.73 L309.07,325.09 L309.26,325.45 L309.37,325.81 L309.40,326.10 L309.40,326.17 L309.40,326.53 L309.40,326.89 L309.40,327.25 L309.40,327.61 L309.40,327.97 L309.40,328.33 L309.40,328.69 L309.40,329.05 L309.40,329.41 L309.40,329.70 L309.40,329.77 L309.33,330.13 L309.17,330.49 L308.91,330.85 L308.58,331.21 L308.19,331.57 L307.74,331.93 L307.26,332.29 L306.76,332.65 L306.26,333.00 L305.77,333.36 L305.31,333.72 L304.87,334.08 L304.48,334.44 L304.12,334.80 L303.81,335.16 L303.55,335.52 L303.33,335.88 L303.14,336.24 L302.99,336.60 L302.87,336.96 L302.77,337.32 L302.70,337.68 L302.64,338.04 L302.60,338.40 L302.40,338.40 L302.36,338.04 L302.30,337.68 L302.23,337.32 L302.13,336.96 L302.01,336.60 L301.86,336.24 L301.67,335.88 L301.45,335.52 L301.19,335.16 L300.88,334.80 L300.52,334.44 L300.13,334.08 L299.69,333.72 L299.23,333.36 L298.74,333.00 L298.24,332.65 L297.74,332.29 L297.26,331.93 L296.81,331.57 L296.42,331.21 L296.09,330.85 L295.83,330.49 L295.67,330.13 L295.60,329.77 L295.60,329.70 L295.60,329.41 L295.60,329.05 L295.60,328.69 L295.60,328.33 L295.60,327.97 L295.60,327.61 L295.60,327.25 L295.60,326.89 L295.60,326.53 L295.60,326.17 L295.60,326.10 L295.63,325.81 L295.74,325.45 L295.93,325.09 L296.20,324.73 L296.54,324.37 L296.92,324.01 L297.35,323.65 L297.80,323.29 L298.27,322.93 L298.74,322.57 L299.20,322.21 L299.64,321.86 L300.05,321.50 L300.43,321.14 L300.77,320.78 L301.07,320.42 L301.34,320.06 L301.57,319.70 L301.76,319.34 L301.92,318.98 L302.05,318.62 L302.16,318.26 L302.24,317.90 L302.31,317.54 L302.36,317.18 L302.40,316.82Z" fill="#3476b4" fill-opacity="0.36"/>
<path d="M306.60,324.47 L306.64,324.88 L306.69,325.28 L306.75,325.69 L306.83,326.09 L306.93,326.50 L307.06,326.90 L307.21,327.31 L307.39,327.71 L307.60,328.12 L307.85,328.52 L308.14,328.93 L308.46,329.33 L308.82,329.74 L309.21,330.14 L309.63,330.55 L310.07,330.95 L310.52,331.36 L310.98,331.76 L311.43,332.17 L311.86,332.57 L312.26,332.98 L312.61,333.38 L312.91,333.79 L313.15,334.19 L313.31,334.60 L313.39,335.00 L313.40,335.20 L313.40,335.41 L313.40,335.81 L313.40,336.22 L313.40,336.62 L313.40,337.03 L313.40,337.20 L313.39,337.43 L313.31,337.84 L313.17,338.24 L312.96,338.65 L312.70,339.05 L312.38,339.46 L312.02,339.86 L311.64,340.27 L311.23,340.67 L310.80,341.08 L310.38,341.48 L309.96,341.89 L309.56,342.29 L309.17,342.70 L308.81,343.10 L308.48,343.51 L308.18,343.91 L307.91,344.32 L307.67,344.72 L307.46,345.13 L307.28,345.53 L307.13,345.94 L307.00,346.34 L306.89,346.75 L306.81,347.15 L306.74,347.56 L306.68,347.96 L306.64,348.37 L306.60,348.77 L306.40,348.77 L306.36,348.37 L306.32,347.96 L306.26,347.56 L306.19,347.15 L306.11,346.75 L306.00,346.34 L305.87,345.94 L305.72,345.53 L305.54,345.13 L305.33,344.72 L305.09,344.32 L304.82,343.91 L304.52,343.51 L304.19,343.10 L303.83,342.70 L303.44,342.29 L303.04,341.89 L302.62,341.48 L302.20,341.08 L301.77,340.67 L301.36,340.27 L300.98,339.86 L300.62,339.46 L300.30,339.05 L300.04,338.65 L299.83,338.24 L299.69,337.84 L299.61,337.43 L299.60,337.20 L299.60,337.03 L299.60,336.62 L299.60,336.22 L299.60,335.81 L299.60,335.41 L299.60,335.20 L299.61,335.00 L299.69,334.60 L299.85,334.19 L300.09,333.79 L300.39,333.38 L300.74,332.98 L301.14,332.57 L301.57,332.17 L302.02,331.76 L302.48,331.36 L302.93,330.95 L303.37,330.55 L303.79,330.14 L304.18,329.74 L304.54,329.33 L304.86,328.93 L305.15,328.52 L305.40,328.12 L305.61,327.71 L305.79,327.31 L305.94,326.90 L306.07,326.50 L306.17,326.09 L306.25,325.69 L306.31,325.28 L306.36,324.88 L306.40,324.47Z" fill="#23be5f" fill-opacity="0.36"/>
<path d="M310.60,332.03 L310.64,332.42 L310.69,332.82 L310.75,333.21 L310.83,333.61 L310.93,334.00 L311.05,334.39 L311.20,334.79 L311.38,335.18 L311.60,335.58 L311.84,335.97 L312.13,336.36 L312.45,336.76 L312.80,337.15 L313.19,337.55 L313.61,337.94 L314.04,338.33 L314.50,338.73 L314.95,339.12 L315.40,339.52 L315.83,339.91 L316.23,340.30 L316.59,340.70 L316.89,341.09 L317.13,341.48 L317.30,341.88 L317.39,342.27 L317.40,342.50 L317.40,342.67 L317.40,343.06 L317.40,343.45 L317.40,343.85 L317.40,344.24 L317.40,344.50 L317.40,344.64 L317.34,345.03 L317.20,345.42 L317.01,345.82 L316.75,346.21 L316.44,346.61 L316.09,347.00 L315.70,347.39 L315.29,347.79 L314.87,348.18 L314.44,348.57 L314.02,348.97 L313.61,349.36 L313.22,349.76 L312.85,350.15 L312.51,350.54 L312.20,350.94 L311.93,351.33 L311.69,351.73 L311.47,352.12 L311.29,352.51 L311.14,352.91 L311.01,353.30 L310.90,353.70 L310.81,354.09 L310.74,354.48 L310.68,354.88 L310.64,355.27 L310.60,355.67 L310.40,355.67 L310.36,355.27 L310.32,354.88 L310.26,354.48 L310.19,354.09 L310.10,353.70 L309.99,353.30 L309.86,352.91 L309.71,352.51 L309.53,352.12 L309.31,351.73 L309.07,351.33 L308.80,350.94 L308.49,350.54 L308.15,350.15 L307.78,349.76 L307.39,349.36 L306.98,348.97 L306.56,348.57 L306.13,348.18 L305.71,347.79 L305.30,347.39 L304.91,347.00 L304.56,346.61 L304.25,346.21 L303.99,345.82 L303.80,345.42 L303.66,345.03 L303.60,344.64 L303.60,344.50 L303.60,344.24 L303.60,343.85 L303.60,343.45 L303.60,343.06 L303.60,342.67 L303.60,342.50 L303.61,342.27 L303.70,341.88 L303.87,341.48 L304.11,341.09 L304.41,340.70 L304.77,340.30 L305.17,339.91 L305.60,339.52 L306.05,339.12 L306.50,338.73 L306.96,338.33 L307.39,337.94 L307.81,337.55 L308.20,337.15 L308.55,336.76 L308.87,336.36 L309.16,335.97 L309.40,335.58 L309.62,335.18 L309.80,334.79 L309.95,334.39 L310.07,334.00 L310.17,333.61 L310.25,333.21 L310.31,332.82 L310.36,332.42 L310.40,332.03Z" fill="#ffa01e" fill-opacity="0.36"/>
<path d="M314.60,339.40 L314.64,339.81 L314.68,340.22 L314.74,340.62 L314.81,341.03 L314.90,341.44 L315.00,341.85 L315.13,342.25 L315.29,342.66 L315.47,343.07 L315.68,343.48 L315.92,343.88 L316.19,344.29 L316.50,344.70 L316.83,345.11 L317.19,345.51 L317.58,345.92 L317.99,346.33 L318.41,346.74 L318.84,347.15 L319.26,347.55 L319.67,347.96 L320.06,348.37 L320.41,348.78 L320.72,349.18 L320.99,349.59 L321.19,350.00 L321.32,350.41 L321.39,350.81 L321.40,351.00 L321.40,351.22 L321.40,351.63 L321.40,352.04 L321.40,352.45 L321.40,352.85 L321.40,353.26 L321.40,353.67 L321.40,354.00 L321.40,354.08 L321.33,354.48 L321.17,354.89 L320.91,355.30 L320.58,355.71 L320.19,356.11 L319.74,356.52 L319.26,356.93 L318.76,357.34 L318.26,357.75 L317.77,358.15 L317.31,358.56 L316.87,358.97 L316.48,359.38 L316.12,359.78 L315.81,360.19 L315.55,360.60 L315.33,361.01 L315.14,361.41 L314.99,361.82 L314.87,362.23 L314.77,362.64 L314.70,363.04 L314.64,363.45 L314.60,363.86 L314.40,363.86 L314.36,363.45 L314.30,363.04 L314.23,362.64 L314.13,362.23 L314.01,361.82 L313.86,361.41 L313.67,361.01 L313.45,360.60 L313.19,360.19 L312.88,359.78 L312.52,359.38 L312.13,358.97 L311.69,358.56 L311.23,358.15 L310.74,357.75 L310.24,357.34 L309.74,356.93 L309.26,356.52 L308.81,356.11 L308.42,355.71 L308.09,355.30 L307.83,354.89 L307.67,354.48 L307.60,354.08 L307.60,354.00 L307.60,353.67 L307.60,353.26 L307.60,352.85 L307.60,352.45 L307.60,352.04 L307.60,351.63 L307.60,351.22 L307.60,351.00 L307.61,350.81 L307.68,350.41 L307.81,350.00 L308.01,349.59 L308.28,349.18 L308.59,348.78 L308.94,348.37 L309.33,347.96 L309.74,347.55 L310.16,347.15 L310.59,346.74 L311.01,346.33 L311.42,345.92 L311.81,345.51 L312.17,345.11 L312.50,344.70 L312.81,344.29 L313.08,343.88 L313.32,343.48 L313.53,343.07 L313.71,342.66 L313.87,342.25 L314.00,341.85 L314.10,341.44 L314.19,341.03 L314.26,340.62 L314.32,340.22 L314.36,339.81 L314.40,339.40Z" fill="#ff4619" fill-opacity="0.36"/>
<line x1="73.50" y1="38.8" x2="73.50" y2="60.3" stroke="#3476b4" stroke-width="1.4" stroke-opacity="0.85"/>
<rect x="71.25" y="47.2" width="4.5" height="8.30" fill="#3476b4"/>
<circle cx="73.50" cy="52.3" r="2.0" fill="#fff"/>
<line x1="77.50" y1="40.1" x2="77.50" y2="61.6" stroke="#23be5f" stroke-width="1.4" stroke-opacity="0.85"/>
<rect x="75.25" y="46.2" width="4.5" height="10.00" fill="#23be5f"/>
<circle cx="77.50" cy="51.0" r="2.0" fill="#fff"/>
<line x1="81.50" y1="60.5" x2="81.50" y2="81.3" stroke="#ffa01e" stroke-width="1.4" stroke-opacity="0.85"/>
<rect x="79.25" y="68.2" width="4.5" height="8.60" fill="#ffa01e"/>
<circle cx="81.50" cy="72.2" r="2.0" fill="#fff"/>
<line x1="85.50" y1="57.6" x2="85.50" y2="81.7" stroke="#ff4619" stroke-width="1.4" stroke-opacity="0.85"/>
<rect x="83.25" y="67.8" width="4.5" height="9.40" fill="#ff4619"/>
<circle cx="85.50" cy="72.2" r="2.0" fill="#fff"/>
<line x1="114.60" y1="62.1" x2="114.60" y2="82.5" stroke="#3476b4" stroke-width="1.4" stroke-opacity="0.85"/>
<rect x="112.35" y="70.0" width="4.5" height="7.70" fill="#3476b4"/>
<circle cx="114.60" cy="73.6" r="2.0" fill="#fff"/>
<line x1="118.60" y1="63.9" x2="118.60" y2="87.6" stroke="#23be5f" stroke-width="1.4" stroke-opacity="0.85"/>
<rect x="116.35" y="72.2" width="4.5" height="8.70" fill="#23be5f"/>
<circle cx="118.60" cy="77.2" r="2.0" fill="#fff"/>
<line x1="122.60" y1="76.6" x2="122.60" y2="101.3" stroke="#ffa01e" stroke-width="1.4" stroke-opacity="0.85"/>
<rect x="120.35" y="84.0" width="4.5" height="10.90" fill="#ffa01e"/>
<circle cx="122.60" cy="89.9" r="2.0" fill="#fff"/>
<line x1="126.60" y1="81.1" x2="126.60" y2="103.9" stroke="#ff4619" stroke-width="1.4" stroke-opacity="0.85"/>
<rect x="124.35" y="90.1" width="4.5" height="9.60" fill="#ff4619"/>
<circle cx="126.60" cy="95.2" r="2.0" fill="#fff"/>
<line x1="159.50" y1="112.2" x2="159.50" y2="132.4" stroke="#3476b4" stroke-width="1.4" stroke-opacity="0.85"/>
<rect x="157.25" y="119.2" width="4.5" height="8.40" fill="#3476b4"/>
<circle cx="159.50" cy="123.7" r="2.0" fill="#fff"/>
<line x1="163.50" y1="116.7" x2="163.50" y2="136.3" stroke="#23be5f" stroke-width="1.4" stroke-opacity="0.85"/>
<rect x="161.25" y="123.7" width="4.5" height="8.40" fill="#23be5f"/>
<circle cx="163.50" cy="128.4" r="2.0" fill="#fff"/>
<line x1="167.50" y1="129.2" x2="167.50" y2="149.7" stroke="#ffa01e" stroke-width="1.4" stroke-opacity="0.85"/>
<rect x="165.25" y="135.6" width="4.5" height="8.70" fill="#ffa01e"/>
<circle cx="167.50" cy="139.5" r="2.0" fill="#fff"/>
<line x1="171.50" y1="133.0" x2="171.50" y2="154.5" stroke="#ff4619" stroke-width="1.4" stroke-opacity="0.85"/>
<rect x="169.25" y="140.7" width="4.5" height="8.10" fill="#ff4619"/>
<circle cx="171.50" cy="144.6" r="2.0" fill="#fff"/>
<line x1="205.80" y1="173.0" x2="205.80" y2="195.4" stroke="#3476b4" stroke-width="1.4" stroke-opacity="0.85"/>
<rect x="203.55" y="181.1" width="4.5" height="7.90" fill="#3476b4"/>
<circle cx="205.80" cy="186.1" r="2.0" fill="#fff"/>
<line x1="209.80" y1="178.5" x2="209.80" y2="200.9" stroke="#23be5f" stroke-width="1.4" stroke-opacity="0.85"/>
<rect x="207.55" y="187.4" width="4.5" height="8.30" fill="#23be5f"/>
<circle cx="209.80" cy="191.8" r="2.0" fill="#fff"/>
<line x1="213.80" y1="189.3" x2="213.80" y2="212.7" stroke="#ffa01e" stroke-width="1.4" stroke-opacity="0.85"/>
<rect x="211.55" y="197.0" width="4.5" height="8.30" fill="#ffa01e"/>
<circle cx="213.80" cy="202.4" r="2.0" fill="#fff"/>
<line x1="217.80" y1="196.0" x2="217.80" y2="217.8" stroke="#ff4619" stroke-width="1.4" stroke-opacity="0.85"/>
<rect x="215.55" y="203.0" width="4.5" height="9.30" fill="#ff4619"/>
<circle cx="217.80" cy="208.2" r="2.0" fill="#fff"/>
<line x1="253.50" y1="241.2" x2="253.50" y2="264.1" stroke="#3476b4" stroke-width="1.4" stroke-opacity="0.85"/>
<rect x="251.25" y="251.0" width="4.5" height="8.60" fill="#3476b4"/>
<circle cx="253.50" cy="255.4" r="2.0" fill="#fff"/>
<line x1="257.50" y1="252.5" x2="257.50" y2="270.7" stroke="#23be5f" stroke-width="1.4" stroke-opacity="0.85"/>
<rect x="255.25" y="258.3" width="4.5" height="7.90" fill="#23be5f"/>
<circle cx="257.50" cy="262.4" r="2.0" fill="#fff"/>
<line x1="261.50" y1="257.9" x2="261.50" y2="281.3" stroke="#ffa01e" stroke-width="1.4" stroke-opacity="0.85"/>
<rect x="259.25" y="266.2" width="4.5" height="8.70" fill="#ffa01e"/>
<circle cx="261.50" cy="270.7" r="2.0" fill="#fff"/>
<line x1="265.50" y1="262.1" x2="265.50" y2="284.9" stroke="#ff4619" stroke-width="1.4" stroke-opacity="0.85"/>
<rect x="263.25" y="272.3" width="4.5" height="9.00" fill="#ff4619"/>
<circle cx="265.50" cy="277.8" r="2.0" fill="#fff"/>
<line x1="302.50" y1="316.1" x2="302.50" y2="337.0" stroke="#3476b4" stroke-width="1.4" stroke-opacity="0.85"/>
<rect x="300.25" y="323.2" width="4.5" height="9.30" fill="#3476b4"/>
<circle cx="302.50" cy="328.2" r="2.0" fill="#fff"/>
<line x1="306.50" y1="325.1" x2="306.50" y2="347.5" stroke="#23be5f" stroke-width="1.4" stroke-opacity="0.85"/>
<rect x="304.25" y="332.1" width="4.5" height="8.90" fill="#23be5f"/>
<circle cx="306.50" cy="336.6" r="2.0" fill="#fff"/>
<line x1="310.50" y1="327.9" x2="310.50" y2="353.5" stroke="#ffa01e" stroke-width="1.4" stroke-opacity="0.85"/>
<rect x="308.25" y="340.1" width="4.5" height="8.30" fill="#ffa01e"/>
<circle cx="310.50" cy="343.9" r="2.0" fill="#fff"/>
<line x1="314.50" y1="340.1" x2="314.50" y2="360.9" stroke="#ff4619" stroke-width="1.4" stroke-opacity="0.85"/>
<rect x="312.25" y="347.1" width="4.5" height="9.90" fill="#ff4619"/>
<circle cx="314.50" cy="352.2" r="2.0" fill="#fff"/>
<path d="M373.30,296.34 L373.33,297.06 L373.35,297.77 L373.38,298.49 L373.42,299.20 L373.46,299.92 L373.51,300.63 L373.57,301.35 L373.64,302.06 L373.71,302.78 L373.80,303.49 L373.89,304.21 L374.00,304.92 L374.12,305.64 L374.26,306.35 L374.40,307.07 L374.57,307.79 L374.74,308.50 L374.93,309.22 L375.14,309.93 L375.36,310.65 L375.59,311.36 L375.84,312.08 L376.09,312.79 L376.36,313.51 L376.64,314.22 L376.92,314.94 L377.21,315.65 L377.49,316.37 L377.78,317.08 L378.06,317.80 L378.34,318.52 L378.60,319.23 L378.86,319.95 L379.09,320.66 L379.31,321.38 L379.51,322.09 L379.68,322.81 L379.82,323.52 L379.94,324.24 L380.02,324.95 L380.08,325.67 L380.10,326.38 L380.10,326.50 L380.04,327.10 L379.80,327.81 L379.40,328.53 L378.88,329.25 L378.26,329.96 L377.60,330.68 L376.92,331.39 L376.26,332.11 L375.66,332.82 L375.12,333.54 L374.66,334.25 L374.28,334.97 L373.98,335.68 L373.75,336.40 L373.58,337.11 L373.45,337.83 L373.36,338.54 L373.30,339.26 L373.10,339.26 L373.04,338.54 L372.95,337.83 L372.82,337.11 L372.65,336.40 L372.42,335.68 L372.12,334.97 L371.74,334.25 L371.28,333.54 L370.74,332.82 L370.14,332.11 L369.48,331.39 L368.80,330.68 L368.14,329.96 L367.52,329.25 L367.00,328.53 L366.60,327.81 L366.36,327.10 L366.30,326.50 L366.30,326.38 L366.32,325.67 L366.38,324.95 L366.46,324.24 L366.58,323.52 L366.72,322.81 L366.89,322.09 L367.09,321.38 L367.31,320.66 L367.54,319.95 L367.80,319.23 L368.06,318.52 L368.34,317.80 L368.62,317.08 L368.91,316.37 L369.19,315.65 L369.48,314.94 L369.76,314.22 L370.04,313.51 L370.31,312.79 L370.56,312.08 L370.81,311.36 L371.04,310.65 L371.26,309.93 L371.47,309.22 L371.66,308.50 L371.83,307.79 L372.00,307.07 L372.14,306.35 L372.28,305.64 L372.40,304.92 L372.51,304.21 L372.60,303.49 L372.69,302.78 L372.76,302.06 L372.83,301.35 L372.89,300.63 L372.94,299.92 L372.98,299.20 L373.02,298.49 L373.05,297.77 L373.07,297.06 L373.10,296.34Z" fill="#3476b4" fill-opacity="0.36"/>
<path d="M377.30,302.33 L377.33,302.90 L377.37,303.46 L377.42,304.03 L377.47,304.59 L377.54,305.16 L377.62,305.72 L377.72,306.29 L377.84,306.85 L377.97,307.42 L378.13,307.99 L378.31,308.55 L378.51,309.12 L378.74,309.68 L378.99,310.25 L379.26,310.81 L379.56,311.38 L379.88,311.94 L380.22,312.51 L380.58,313.07 L380.95,313.64 L381.32,314.21 L381.70,314.77 L382.07,315.34 L382.43,315.90 L382.76,316.47 L383.08,317.03 L383.36,317.60 L383.60,318.16 L383.80,318.73 L383.95,319.30 L384.05,319.86 L384.10,320.43 L384.10,320.60 L384.08,320.99 L383.99,321.56 L383.83,322.12 L383.60,322.69 L383.32,323.25 L382.98,323.82 L382.60,324.38 L382.19,324.95 L381.76,325.52 L381.32,326.08 L380.89,326.65 L380.46,327.21 L380.05,327.78 L379.67,328.34 L379.31,328.91 L378.99,329.47 L378.70,330.04 L378.44,330.61 L378.22,331.17 L378.02,331.74 L377.86,332.30 L377.72,332.87 L377.61,333.43 L377.52,334.00 L377.44,334.56 L377.38,335.13 L377.34,335.69 L377.30,336.26 L377.10,336.26 L377.06,335.69 L377.02,335.13 L376.96,334.56 L376.88,334.00 L376.79,333.43 L376.68,332.87 L376.54,332.30 L376.38,331.74 L376.18,331.17 L375.96,330.61 L375.70,330.04 L375.41,329.47 L375.09,328.91 L374.73,328.34 L374.35,327.78 L373.94,327.21 L373.51,326.65 L373.08,326.08 L372.64,325.52 L372.21,324.95 L371.80,324.38 L371.42,323.82 L371.08,323.25 L370.80,322.69 L370.57,322.12 L370.41,321.56 L370.32,320.99 L370.30,320.60 L370.30,320.43 L370.35,319.86 L370.45,319.30 L370.60,318.73 L370.80,318.16 L371.04,317.60 L371.32,317.03 L371.64,316.47 L371.97,315.90 L372.33,315.34 L372.70,314.77 L373.08,314.21 L373.45,313.64 L373.82,313.07 L374.18,312.51 L374.52,311.94 L374.84,311.38 L375.14,310.81 L375.41,310.25 L375.66,309.68 L375.89,309.12 L376.09,308.55 L376.27,307.99 L376.43,307.42 L376.56,306.85 L376.68,306.29 L376.78,305.72 L376.86,305.16 L376.93,304.59 L376.98,304.03 L377.03,303.46 L377.07,302.90 L377.10,302.33Z" fill="#23be5f" fill-opacity="0.36"/>
<path d="M381.30,338.80 L381.34,339.19 L381.38,339.57 L381.43,339.96 L381.49,340.35 L381.57,340.73 L381.67,341.12 L381.78,341.51 L381.92,341.89 L382.08,342.28 L382.26,342.67 L382.48,343.05 L382.72,343.44 L382.99,343.83 L383.29,344.21 L383.61,344.60 L383.96,344.99 L384.33,345.37 L384.72,345.76 L385.12,346.15 L385.52,346.53 L385.93,346.92 L386.32,347.31 L386.69,347.69 L387.03,348.08 L387.34,348.47 L387.60,348.85 L387.82,349.24 L387.97,349.63 L388.07,350.01 L388.10,350.40 L388.07,350.79 L387.97,351.17 L387.82,351.56 L387.60,351.95 L387.34,352.33 L387.03,352.72 L386.69,353.11 L386.32,353.49 L385.93,353.88 L385.52,354.27 L385.12,354.65 L384.72,355.04 L384.33,355.43 L383.96,355.81 L383.61,356.20 L383.29,356.59 L382.99,356.97 L382.72,357.36 L382.48,357.75 L382.26,358.13 L382.08,358.52 L381.92,358.91 L381.78,359.29 L381.67,359.68 L381.57,360.07 L381.49,360.45 L381.43,360.84 L381.38,361.23 L381.34,361.61 L381.30,362.00 L381.10,362.00 L381.06,361.61 L381.02,361.23 L380.97,360.84 L380.91,360.45 L380.83,360.07 L380.73,359.68 L380.62,359.29 L380.48,358.91 L380.32,358.52 L380.14,358.13 L379.92,357.75 L379.68,357.36 L379.41,356.97 L379.11,356.59 L378.79,356.20 L378.44,355.81 L378.07,355.43 L377.68,355.04 L377.28,354.65 L376.88,354.27 L376.47,353.88 L376.08,353.49 L375.71,353.11 L375.37,352.72 L375.06,352.33 L374.80,351.95 L374.58,351.56 L374.43,351.17 L374.33,350.79 L374.30,350.40 L374.33,350.01 L374.43,349.63 L374.58,349.24 L374.80,348.85 L375.06,348.47 L375.37,348.08 L375.71,347.69 L376.08,347.31 L376.47,346.92 L376.88,346.53 L377.28,346.15 L377.68,345.76 L378.07,345.37 L378.44,344.99 L378.79,344.60 L379.11,344.21 L379.41,343.83 L379.68,343.44 L379.92,343.05 L380.14,342.67 L380.32,342.28 L380.48,341.89 L380.62,341.51 L380.73,341.12 L380.83,340.73 L380.91,340.35 L380.97,339.96 L381.02,339.57 L381.06,339.19 L381.10,338.80Z" fill="#ffa01e" fill-opacity="0.36"/>
<path d="M385.30,337.06 L385.34,337.50 L385.38,337.95 L385.43,338.39 L385.49,338.84 L385.57,339.28 L385.67,339.73 L385.78,340.17 L385.92,340.62 L386.08,341.06 L386.26,341.51 L386.48,341.95 L386.72,342.40 L386.99,342.84 L387.29,343.29 L387.61,343.73 L387.96,344.17 L388.33,344.62 L388.72,345.06 L389.12,345.51 L389.52,345.95 L389.93,346.40 L390.32,346.84 L390.69,347.29 L391.03,347.73 L391.34,348.18 L391.60,348.62 L391.82,349.07 L391.97,349.51 L392.07,349.96 L392.10,350.40 L392.07,350.84 L391.97,351.29 L391.82,351.73 L391.60,352.18 L391.34,352.62 L391.03,353.07 L390.69,353.51 L390.32,353.96 L389.93,354.40 L389.52,354.85 L389.12,355.29 L388.72,355.74 L388.33,356.18 L387.96,356.63 L387.61,357.07 L387.29,357.51 L386.99,357.96 L386.72,358.40 L386.48,358.85 L386.26,359.29 L386.08,359.74 L385.92,360.18 L385.78,360.63 L385.67,361.07 L385.57,361.52 L385.49,361.96 L385.43,362.41 L385.38,362.85 L385.34,363.30 L385.30,363.74 L385.10,363.74 L385.06,363.30 L385.02,362.85 L384.97,362.41 L384.91,361.96 L384.83,361.52 L384.73,361.07 L384.62,360.63 L384.48,360.18 L384.32,359.74 L384.14,359.29 L383.92,358.85 L383.68,358.40 L383.41,357.96 L383.11,357.51 L382.79,357.07 L382.44,356.63 L382.07,356.18 L381.68,355.74 L381.28,355.29 L380.88,354.85 L380.47,354.40 L380.08,353.96 L379.71,353.51 L379.37,353.07 L379.06,352.62 L378.80,352.18 L378.58,351.73 L378.43,351.29 L378.33,350.84 L378.30,350.40 L378.33,349.96 L378.43,349.51 L378.58,349.07 L378.80,348.62 L379.06,348.18 L379.37,347.73 L379.71,347.29 L380.08,346.84 L380.47,346.40 L380.88,345.95 L381.28,345.51 L381.68,345.06 L382.07,344.62 L382.44,344.17 L382.79,343.73 L383.11,343.29 L383.41,342.84 L383.68,342.40 L383.92,341.95 L384.14,341.51 L384.32,341.06 L384.48,340.62 L384.62,340.17 L384.73,339.73 L384.83,339.28 L384.91,338.84 L384.97,338.39 L385.02,337.95 L385.06,337.50 L385.10,337.06Z" fill="#ff4619" fill-opacity="0.36"/>
<path d="M414.50,223.25 L414.53,224.33 L414.57,225.41 L414.61,226.48 L414.66,227.56 L414.73,228.64 L414.80,229.72 L414.89,230.79 L415.00,231.87 L415.12,232.95 L415.27,234.03 L415.43,235.11 L415.61,236.18 L415.82,237.26 L416.05,238.34 L416.30,239.42 L416.57,240.50 L416.87,241.57 L417.18,242.65 L417.51,243.73 L417.86,244.81 L418.21,245.88 L418.57,246.96 L418.93,248.04 L419.29,249.12 L419.63,250.20 L419.96,251.27 L420.26,252.35 L420.53,253.43 L420.77,254.51 L420.97,255.59 L421.12,256.66 L421.23,257.74 L421.29,258.82 L421.30,259.50 L421.29,259.90 L421.22,260.97 L421.07,262.05 L420.84,263.13 L420.55,264.21 L420.20,265.29 L419.80,266.36 L419.37,267.44 L418.92,268.52 L418.46,269.60 L418.00,270.67 L417.56,271.75 L417.14,272.83 L416.74,273.91 L416.38,274.99 L416.05,276.06 L415.77,277.14 L415.51,278.22 L415.30,279.30 L415.11,280.38 L414.96,281.45 L414.84,282.53 L414.73,283.61 L414.65,284.69 L414.59,285.76 L414.54,286.84 L414.50,287.92 L414.30,287.92 L414.26,286.84 L414.21,285.76 L414.15,284.69 L414.07,283.61 L413.96,282.53 L413.84,281.45 L413.69,280.38 L413.50,279.30 L413.29,278.22 L413.03,277.14 L412.75,276.06 L412.42,274.99 L412.06,273.91 L411.66,272.83 L411.24,271.75 L410.80,270.67 L410.34,269.60 L409.88,268.52 L409.43,267.44 L409.00,266.36 L408.60,265.29 L408.25,264.21 L407.96,263.13 L407.73,262.05 L407.58,260.97 L407.51,259.90 L407.50,259.50 L407.51,258.82 L407.57,257.74 L407.68,256.66 L407.83,255.59 L408.03,254.51 L408.27,253.43 L408.54,252.35 L408.84,251.27 L409.17,250.20 L409.51,249.12 L409.87,248.04 L410.23,246.96 L410.59,245.88 L410.94,244.81 L411.29,243.73 L411.62,242.65 L411.93,241.57 L412.23,240.50 L412.50,239.42 L412.75,238.34 L412.98,237.26 L413.19,236.18 L413.37,235.11 L413.53,234.03 L413.68,232.95 L413.80,231.87 L413.91,230.79 L414.00,229.72 L414.07,228.64 L414.14,227.56 L414.19,226.48 L414.23,225.41 L414.27,224.33 L414.30,223.25Z" fill="#3476b4" fill-opacity="0.36"/>
<path d="M418.50,247.22 L418.54,248.10 L418.59,248.98 L418.65,249.86 L418.73,250.74 L418.82,251.62 L418.94,252.50 L419.09,253.38 L419.26,254.26 L419.46,255.14 L419.70,256.02 L419.97,256.90 L420.28,257.78 L420.62,258.66 L421.00,259.54 L421.40,260.42 L421.82,261.29 L422.27,262.17 L422.71,263.05 L423.16,263.93 L423.59,264.81 L424.00,265.69 L424.36,266.57 L424.68,267.45 L424.94,268.33 L425.14,269.21 L425.26,270.09 L425.30,270.97 L425.30,271.00 L425.28,271.85 L425.20,272.73 L425.07,273.61 L424.89,274.49 L424.67,275.37 L424.41,276.25 L424.12,277.13 L423.80,278.01 L423.46,278.89 L423.10,279.77 L422.73,280.65 L422.36,281.53 L422.00,282.41 L421.64,283.29 L421.30,284.17 L420.97,285.05 L420.67,285.93 L420.38,286.81 L420.12,287.68 L419.88,288.56 L419.66,289.44 L419.47,290.32 L419.30,291.20 L419.15,292.08 L419.02,292.96 L418.91,293.84 L418.81,294.72 L418.73,295.60 L418.67,296.48 L418.61,297.36 L418.57,298.24 L418.53,299.12 L418.50,300.00 L418.30,300.00 L418.27,299.12 L418.23,298.24 L418.19,297.36 L418.13,296.48 L418.07,295.60 L417.99,294.72 L417.89,293.84 L417.78,292.96 L417.65,292.08 L417.50,291.20 L417.33,290.32 L417.14,289.44 L416.92,288.56 L416.68,287.68 L416.42,286.81 L416.13,285.93 L415.83,285.05 L415.50,284.17 L415.16,283.29 L414.80,282.41 L414.44,281.53 L414.07,280.65 L413.70,279.77 L413.34,278.89 L413.00,278.01 L412.68,277.13 L412.39,276.25 L412.13,275.37 L411.91,274.49 L411.73,273.61 L411.60,272.73 L411.52,271.85 L411.50,271.00 L411.50,270.97 L411.54,270.09 L411.66,269.21 L411.86,268.33 L412.12,267.45 L412.44,266.57 L412.80,265.69 L413.21,264.81 L413.64,263.93 L414.09,263.05 L414.53,262.17 L414.98,261.29 L415.40,260.42 L415.80,259.54 L416.18,258.66 L416.52,257.78 L416.83,256.90 L417.10,256.02 L417.34,255.14 L417.54,254.26 L417.71,253.38 L417.86,252.50 L417.98,251.62 L418.07,250.74 L418.15,249.86 L418.21,248.98 L418.26,248.10 L418.30,247.22Z" fill="#23be5f" fill-opacity="0.36"/>
<path d="M422.50,277.35 L422.54,278.27 L422.59,279.20 L422.65,280.12 L422.73,281.04 L422.83,281.97 L422.95,282.89 L423.10,283.81 L423.28,284.74 L423.49,285.66 L423.73,286.58 L424.01,287.50 L424.33,288.43 L424.68,289.35 L425.06,290.27 L425.48,291.20 L425.91,292.12 L426.36,293.04 L426.81,293.97 L427.26,294.89 L427.69,295.81 L428.10,296.74 L428.46,297.66 L428.76,298.58 L429.01,299.51 L429.18,300.43 L429.28,301.35 L429.30,302.00 L429.30,302.28 L429.26,303.20 L429.16,304.12 L429.02,305.05 L428.83,305.97 L428.60,306.89 L428.34,307.81 L428.04,308.74 L427.71,309.66 L427.37,310.58 L427.01,311.51 L426.65,312.43 L426.29,313.35 L425.93,314.28 L425.58,315.20 L425.24,316.12 L424.92,317.05 L424.62,317.97 L424.34,318.89 L424.08,319.82 L423.85,320.74 L423.64,321.66 L423.45,322.59 L423.28,323.51 L423.14,324.43 L423.01,325.35 L422.90,326.28 L422.81,327.20 L422.73,328.12 L422.67,329.05 L422.61,329.97 L422.57,330.89 L422.53,331.82 L422.50,332.74 L422.30,332.74 L422.27,331.82 L422.23,330.89 L422.19,329.97 L422.13,329.05 L422.07,328.12 L421.99,327.20 L421.90,326.28 L421.79,325.35 L421.66,324.43 L421.52,323.51 L421.35,322.59 L421.16,321.66 L420.95,320.74 L420.72,319.82 L420.46,318.89 L420.18,317.97 L419.88,317.05 L419.56,316.12 L419.22,315.20 L418.87,314.28 L418.51,313.35 L418.15,312.43 L417.79,311.51 L417.43,310.58 L417.09,309.66 L416.76,308.74 L416.46,307.81 L416.20,306.89 L415.97,305.97 L415.78,305.05 L415.64,304.12 L415.54,303.20 L415.50,302.28 L415.50,302.00 L415.52,301.35 L415.62,300.43 L415.79,299.51 L416.04,298.58 L416.34,297.66 L416.70,296.74 L417.11,295.81 L417.54,294.89 L417.99,293.97 L418.44,293.04 L418.89,292.12 L419.32,291.20 L419.74,290.27 L420.12,289.35 L420.47,288.43 L420.79,287.50 L421.07,286.58 L421.31,285.66 L421.52,284.74 L421.70,283.81 L421.85,282.89 L421.97,281.97 L422.07,281.04 L422.15,280.12 L422.21,279.20 L422.26,278.27 L422.30,277.35Z" fill="#ffa01e" fill-opacity="0.36"/>
<path d="M426.50,283.10 L426.53,284.00 L426.56,284.91 L426.60,285.81 L426.65,286.72 L426.71,287.62 L426.78,288.52 L426.86,289.43 L426.96,290.33 L427.07,291.23 L427.20,292.14 L427.34,293.04 L427.50,293.95 L427.69,294.85 L427.89,295.75 L428.12,296.66 L428.36,297.56 L428.63,298.47 L428.91,299.37 L429.22,300.27 L429.53,301.18 L429.86,302.08 L430.20,302.98 L430.54,303.89 L430.89,304.79 L431.22,305.70 L431.55,306.60 L431.87,307.50 L432.17,308.41 L432.44,309.31 L432.68,310.21 L432.88,311.12 L433.05,312.02 L433.18,312.93 L433.26,313.83 L433.30,314.73 L433.30,315.00 L433.28,315.64 L433.16,316.54 L432.96,317.45 L432.68,318.35 L432.32,319.25 L431.91,320.16 L431.46,321.06 L430.98,321.96 L430.49,322.87 L430.01,323.77 L429.53,324.68 L429.08,325.58 L428.67,326.48 L428.29,327.39 L427.96,328.29 L427.66,329.20 L427.41,330.10 L427.20,331.00 L427.02,331.91 L426.88,332.81 L426.76,333.71 L426.67,334.62 L426.60,335.52 L426.54,336.43 L426.50,337.33 L426.30,337.33 L426.26,336.43 L426.20,335.52 L426.13,334.62 L426.04,333.71 L425.92,332.81 L425.78,331.91 L425.60,331.00 L425.39,330.10 L425.14,329.20 L424.84,328.29 L424.51,327.39 L424.13,326.48 L423.72,325.58 L423.27,324.68 L422.79,323.77 L422.31,322.87 L421.82,321.96 L421.34,321.06 L420.89,320.16 L420.48,319.25 L420.12,318.35 L419.84,317.45 L419.64,316.54 L419.52,315.64 L419.50,315.00 L419.50,314.73 L419.54,313.83 L419.62,312.93 L419.75,312.02 L419.92,311.12 L420.12,310.21 L420.36,309.31 L420.63,308.41 L420.93,307.50 L421.25,306.60 L421.58,305.70 L421.91,304.79 L422.26,303.89 L422.60,302.98 L422.94,302.08 L423.27,301.18 L423.58,300.27 L423.89,299.37 L424.17,298.47 L424.44,297.56 L424.68,296.66 L424.91,295.75 L425.11,294.85 L425.30,293.95 L425.46,293.04 L425.60,292.14 L425.73,291.23 L425.84,290.33 L425.94,289.43 L426.02,288.52 L426.09,287.62 L426.15,286.72 L426.20,285.81 L426.24,284.91 L426.27,284.00 L426.30,283.10Z" fill="#ff4619" fill-opacity="0.36"/>
<path d="M459.05,160.65 L459.08,162.32 L459.11,163.99 L459.15,165.65 L459.19,167.32 L459.24,168.99 L459.31,170.66 L459.38,172.32 L459.46,173.99 L459.56,175.66 L459.67,177.32 L459.80,178.99 L459.94,180.66 L460.10,182.33 L460.28,184.00 L460.48,185.66 L460.69,187.33 L460.93,189.00 L461.18,190.66 L461.44,192.33 L461.73,194.00 L462.03,195.67 L462.33,197.33 L462.65,199.00 L462.97,200.67 L463.30,202.34 L463.62,204.00 L463.94,205.67 L464.24,207.34 L464.53,209.01 L464.80,210.68 L465.05,212.34 L465.27,214.01 L465.46,215.68 L465.62,217.34 L465.73,219.01 L465.81,220.68 L465.85,222.35 L465.85,223.00 L465.83,224.01 L465.70,225.68 L465.47,227.35 L465.15,229.02 L464.74,230.69 L464.28,232.35 L463.77,234.02 L463.24,235.69 L462.70,237.35 L462.18,239.02 L461.68,240.69 L461.23,242.36 L460.82,244.02 L460.45,245.69 L460.14,247.36 L459.88,249.03 L459.66,250.69 L459.49,252.36 L459.35,254.03 L459.24,255.70 L459.16,257.37 L459.10,259.03 L459.05,260.70 L458.85,260.70 L458.80,259.03 L458.74,257.37 L458.66,255.70 L458.55,254.03 L458.41,252.36 L458.24,250.69 L458.02,249.03 L457.76,247.36 L457.45,245.69 L457.08,244.02 L456.67,242.36 L456.22,240.69 L455.72,239.02 L455.20,237.35 L454.66,235.69 L454.13,234.02 L453.62,232.35 L453.16,230.69 L452.75,229.02 L452.43,227.35 L452.20,225.68 L452.07,224.01 L452.05,223.00 L452.05,222.35 L452.09,220.68 L452.17,219.01 L452.28,217.34 L452.44,215.68 L452.63,214.01 L452.85,212.34 L453.10,210.68 L453.37,209.01 L453.66,207.34 L453.96,205.67 L454.28,204.00 L454.60,202.34 L454.93,200.67 L455.25,199.00 L455.57,197.33 L455.87,195.67 L456.17,194.00 L456.46,192.33 L456.72,190.66 L456.97,189.00 L457.21,187.33 L457.42,185.66 L457.62,184.00 L457.80,182.33 L457.96,180.66 L458.10,178.99 L458.23,177.32 L458.34,175.66 L458.44,173.99 L458.52,172.32 L458.59,170.66 L458.66,168.99 L458.71,167.32 L458.75,165.65 L458.79,163.99 L458.82,162.32 L458.85,160.65Z" fill="#3476b4" fill-opacity="0.36"/>
<path d="M463.05,201.75 L463.09,203.06 L463.14,204.38 L463.19,205.69 L463.27,207.01 L463.36,208.32 L463.48,209.64 L463.61,210.95 L463.78,212.27 L463.97,213.58 L464.20,214.90 L464.46,216.21 L464.75,217.53 L465.08,218.84 L465.44,220.16 L465.83,221.47 L466.24,222.78 L466.67,224.10 L467.11,225.41 L467.55,226.73 L467.97,228.04 L468.38,229.36 L468.76,230.67 L469.10,231.99 L469.38,233.30 L469.60,234.62 L469.76,235.93 L469.84,237.25 L469.85,238.00 L469.84,238.56 L469.79,239.88 L469.69,241.19 L469.53,242.50 L469.33,243.82 L469.08,245.13 L468.80,246.45 L468.48,247.76 L468.14,249.08 L467.79,250.39 L467.42,251.71 L467.04,253.02 L466.67,254.34 L466.31,255.65 L465.95,256.97 L465.61,258.28 L465.30,259.60 L465.00,260.91 L464.72,262.22 L464.48,263.54 L464.25,264.85 L464.05,266.17 L463.87,267.48 L463.72,268.80 L463.58,270.11 L463.47,271.43 L463.37,272.74 L463.29,274.06 L463.22,275.37 L463.17,276.69 L463.12,278.00 L463.08,279.32 L463.05,280.63 L462.85,280.63 L462.82,279.32 L462.78,278.00 L462.73,276.69 L462.68,275.37 L462.61,274.06 L462.53,272.74 L462.43,271.43 L462.32,270.11 L462.18,268.80 L462.03,267.48 L461.85,266.17 L461.65,264.85 L461.42,263.54 L461.18,262.22 L460.90,260.91 L460.60,259.60 L460.29,258.28 L459.95,256.97 L459.59,255.65 L459.23,254.34 L458.86,253.02 L458.48,251.71 L458.11,250.39 L457.76,249.08 L457.42,247.76 L457.10,246.45 L456.82,245.13 L456.57,243.82 L456.37,242.50 L456.21,241.19 L456.11,239.88 L456.06,238.56 L456.05,238.00 L456.06,237.25 L456.14,235.93 L456.30,234.62 L456.52,233.30 L456.80,231.99 L457.14,230.67 L457.52,229.36 L457.93,228.04 L458.35,226.73 L458.79,225.41 L459.23,224.10 L459.66,222.78 L460.07,221.47 L460.46,220.16 L460.82,218.84 L461.15,217.53 L461.44,216.21 L461.70,214.90 L461.93,213.58 L462.12,212.27 L462.29,210.95 L462.42,209.64 L462.54,208.32 L462.63,207.01 L462.71,205.69 L462.76,204.38 L462.81,203.06 L462.85,201.75Z" fill="#23be5f" fill-opacity="0.36"/>
<path d="M467.05,240.20 L467.09,241.37 L467.13,242.54 L467.18,243.71 L467.25,244.88 L467.33,246.05 L467.42,247.22 L467.54,248.39 L467.68,249.56 L467.84,250.73 L468.03,251.90 L468.25,253.07 L468.49,254.24 L468.77,255.41 L469.07,256.58 L469.40,257.75 L469.76,258.91 L470.14,260.08 L470.53,261.25 L470.93,262.42 L471.34,263.59 L471.75,264.76 L472.14,265.93 L472.51,267.10 L472.85,268.27 L473.15,269.44 L473.40,270.61 L473.61,271.78 L473.75,272.95 L473.83,274.12 L473.85,275.00 L473.85,275.29 L473.80,276.46 L473.69,277.63 L473.52,278.80 L473.30,279.97 L473.03,281.14 L472.72,282.31 L472.37,283.48 L472.00,284.65 L471.61,285.82 L471.21,286.99 L470.81,288.16 L470.41,289.33 L470.03,290.50 L469.66,291.67 L469.32,292.83 L469.00,294.00 L468.71,295.17 L468.44,296.34 L468.21,297.51 L468.00,298.68 L467.82,299.85 L467.66,301.02 L467.53,302.19 L467.41,303.36 L467.32,304.53 L467.24,305.70 L467.18,306.87 L467.13,308.04 L467.09,309.21 L467.05,310.38 L466.85,310.38 L466.81,309.21 L466.77,308.04 L466.72,306.87 L466.66,305.70 L466.58,304.53 L466.49,303.36 L466.37,302.19 L466.24,301.02 L466.08,299.85 L465.90,298.68 L465.69,297.51 L465.46,296.34 L465.19,295.17 L464.90,294.00 L464.58,292.83 L464.24,291.67 L463.87,290.50 L463.49,289.33 L463.09,288.16 L462.69,286.99 L462.29,285.82 L461.90,284.65 L461.53,283.48 L461.18,282.31 L460.87,281.14 L460.60,279.97 L460.38,278.80 L460.21,277.63 L460.10,276.46 L460.05,275.29 L460.05,275.00 L460.07,274.12 L460.15,272.95 L460.29,271.78 L460.50,270.61 L460.75,269.44 L461.05,268.27 L461.39,267.10 L461.76,265.93 L462.15,264.76 L462.56,263.59 L462.97,262.42 L463.37,261.25 L463.76,260.08 L464.14,258.91 L464.50,257.75 L464.83,256.58 L465.13,255.41 L465.41,254.24 L465.65,253.07 L465.87,251.90 L466.06,250.73 L466.22,249.56 L466.36,248.39 L466.48,247.22 L466.57,246.05 L466.65,244.88 L466.72,243.71 L466.77,242.54 L466.81,241.37 L466.85,240.20Z" fill="#ffa01e" fill-opacity="0.36"/>
<path d="M471.05,255.10 L471.09,256.19 L471.13,257.28 L471.18,258.38 L471.25,259.47 L471.33,260.56 L471.44,261.65 L471.56,262.75 L471.70,263.84 L471.87,264.93 L472.07,266.02 L472.30,267.12 L472.55,268.21 L472.84,269.30 L473.16,270.39 L473.50,271.49 L473.87,272.58 L474.26,273.67 L474.67,274.76 L475.08,275.85 L475.49,276.95 L475.90,278.04 L476.29,279.13 L476.66,280.22 L476.99,281.32 L477.27,282.41 L477.51,283.50 L477.69,284.59 L477.80,285.69 L477.85,286.78 L477.85,287.00 L477.83,287.87 L477.75,288.96 L477.61,290.05 L477.42,291.15 L477.18,292.24 L476.90,293.33 L476.57,294.42 L476.22,295.52 L475.85,296.61 L475.46,297.70 L475.07,298.79 L474.67,299.89 L474.29,300.98 L473.92,302.07 L473.56,303.16 L473.23,304.25 L472.93,305.35 L472.64,306.44 L472.39,307.53 L472.16,308.62 L471.96,309.72 L471.79,310.81 L471.64,311.90 L471.51,312.99 L471.40,314.09 L471.31,315.18 L471.24,316.27 L471.17,317.36 L471.12,318.46 L471.08,319.55 L471.05,320.64 L470.85,320.64 L470.82,319.55 L470.78,318.46 L470.73,317.36 L470.66,316.27 L470.59,315.18 L470.50,314.09 L470.39,312.99 L470.26,311.90 L470.11,310.81 L469.94,309.72 L469.74,308.62 L469.51,307.53 L469.26,306.44 L468.97,305.35 L468.67,304.25 L468.34,303.16 L467.98,302.07 L467.61,300.98 L467.23,299.89 L466.83,298.79 L466.44,297.70 L466.05,296.61 L465.68,295.52 L465.33,294.42 L465.00,293.33 L464.72,292.24 L464.48,291.15 L464.29,290.05 L464.15,288.96 L464.07,287.87 L464.05,287.00 L464.05,286.78 L464.10,285.69 L464.21,284.59 L464.39,283.50 L464.63,282.41 L464.91,281.32 L465.24,280.22 L465.61,279.13 L466.00,278.04 L466.41,276.95 L466.82,275.85 L467.23,274.76 L467.64,273.67 L468.03,272.58 L468.40,271.49 L468.74,270.39 L469.06,269.30 L469.35,268.21 L469.60,267.12 L469.83,266.02 L470.03,264.93 L470.20,263.84 L470.34,262.75 L470.46,261.65 L470.57,260.56 L470.65,259.47 L470.72,258.38 L470.77,257.28 L470.81,256.19 L470.85,255.10Z" fill="#ff4619" fill-opacity="0.36"/>
<path d="M505.50,126.40 L505.53,128.30 L505.56,130.21 L505.60,132.11 L505.65,134.02 L505.70,135.92 L505.77,137.83 L505.84,139.73 L505.93,141.63 L506.03,143.54 L506.15,145.44 L506.28,147.35 L506.44,149.25 L506.60,151.16 L506.79,153.06 L507.00,154.97 L507.23,156.87 L507.47,158.77 L507.74,160.68 L508.02,162.58 L508.31,164.49 L508.62,166.39 L508.94,168.30 L509.27,170.20 L509.60,172.10 L509.93,174.01 L510.26,175.91 L510.58,177.82 L510.88,179.72 L511.17,181.63 L511.43,183.53 L511.66,185.43 L511.86,187.34 L512.03,189.24 L512.16,191.15 L512.25,193.05 L512.29,194.96 L512.30,196.00 L512.29,196.86 L512.19,198.76 L511.99,200.67 L511.70,202.57 L511.33,204.48 L510.90,206.38 L510.42,208.29 L509.91,210.19 L509.40,212.09 L508.89,214.00 L508.39,215.90 L507.93,217.81 L507.51,219.71 L507.13,221.62 L506.80,223.52 L506.51,225.43 L506.27,227.33 L506.07,229.23 L505.91,231.14 L505.78,233.04 L505.68,234.95 L505.60,236.85 L505.55,238.76 L505.50,240.66 L505.30,240.66 L505.25,238.76 L505.20,236.85 L505.12,234.95 L505.02,233.04 L504.89,231.14 L504.73,229.23 L504.53,227.33 L504.29,225.43 L504.00,223.52 L503.67,221.62 L503.29,219.71 L502.87,217.81 L502.41,215.90 L501.91,214.00 L501.40,212.09 L500.89,210.19 L500.38,208.29 L499.90,206.38 L499.47,204.48 L499.10,202.57 L498.81,200.67 L498.61,198.76 L498.51,196.86 L498.50,196.00 L498.51,194.96 L498.55,193.05 L498.64,191.15 L498.77,189.24 L498.94,187.34 L499.14,185.43 L499.37,183.53 L499.63,181.63 L499.92,179.72 L500.22,177.82 L500.54,175.91 L500.87,174.01 L501.20,172.10 L501.53,170.20 L501.86,168.30 L502.18,166.39 L502.49,164.49 L502.78,162.58 L503.06,160.68 L503.33,158.77 L503.57,156.87 L503.80,154.97 L504.01,153.06 L504.20,151.16 L504.36,149.25 L504.52,147.35 L504.65,145.44 L504.77,143.54 L504.87,141.63 L504.96,139.73 L505.03,137.83 L505.10,135.92 L505.15,134.02 L505.20,132.11 L505.24,130.21 L505.27,128.30 L505.30,126.40Z" fill="#3476b4" fill-opacity="0.36"/>
<path d="M509.50,171.80 L509.53,173.40 L509.57,174.99 L509.61,176.59 L509.67,178.18 L509.74,179.78 L509.82,181.37 L509.91,182.97 L510.03,184.56 L510.16,186.16 L510.31,187.75 L510.48,189.34 L510.68,190.94 L510.90,192.54 L511.14,194.13 L511.41,195.73 L511.70,197.32 L512.01,198.92 L512.34,200.51 L512.69,202.11 L513.05,203.70 L513.42,205.30 L513.79,206.89 L514.16,208.49 L514.52,210.08 L514.86,211.68 L515.18,213.27 L515.47,214.87 L515.72,216.46 L515.93,218.06 L516.10,219.65 L516.22,221.25 L516.29,222.84 L516.30,224.00 L516.30,224.44 L516.24,226.03 L516.10,227.62 L515.89,229.22 L515.62,230.81 L515.30,232.41 L514.92,234.00 L514.52,235.60 L514.09,237.19 L513.64,238.79 L513.20,240.38 L512.76,241.98 L512.34,243.57 L511.95,245.17 L511.58,246.76 L511.25,248.36 L510.94,249.95 L510.68,251.55 L510.44,253.15 L510.25,254.74 L510.08,256.34 L509.93,257.93 L509.82,259.52 L509.72,261.12 L509.65,262.72 L509.59,264.31 L509.54,265.90 L509.50,267.50 L509.30,267.50 L509.26,265.90 L509.21,264.31 L509.15,262.72 L509.08,261.12 L508.98,259.52 L508.87,257.93 L508.72,256.34 L508.55,254.74 L508.36,253.15 L508.12,251.55 L507.86,249.95 L507.55,248.36 L507.22,246.76 L506.85,245.17 L506.46,243.57 L506.04,241.98 L505.60,240.38 L505.16,238.79 L504.71,237.19 L504.28,235.60 L503.88,234.00 L503.50,232.41 L503.18,230.81 L502.91,229.22 L502.70,227.62 L502.56,226.03 L502.50,224.44 L502.50,224.00 L502.51,222.84 L502.58,221.25 L502.70,219.65 L502.87,218.06 L503.08,216.46 L503.33,214.87 L503.62,213.27 L503.94,211.68 L504.28,210.08 L504.64,208.49 L505.01,206.89 L505.38,205.30 L505.75,203.70 L506.11,202.11 L506.46,200.51 L506.79,198.92 L507.10,197.32 L507.39,195.73 L507.66,194.13 L507.90,192.54 L508.12,190.94 L508.32,189.34 L508.49,187.75 L508.64,186.16 L508.77,184.56 L508.89,182.97 L508.98,181.37 L509.06,179.78 L509.13,178.18 L509.19,176.59 L509.23,174.99 L509.27,173.40 L509.30,171.80Z" fill="#23be5f" fill-opacity="0.36"/>
<path d="M513.50,235.00 L513.54,235.95 L513.58,236.90 L513.63,237.86 L513.69,238.81 L513.77,239.76 L513.86,240.71 L513.97,241.67 L514.10,242.62 L514.26,243.57 L514.44,244.52 L514.64,245.47 L514.87,246.43 L515.13,247.38 L515.42,248.33 L515.74,249.28 L516.08,250.23 L516.44,251.19 L516.81,252.14 L517.21,253.09 L517.60,254.04 L518.00,255.00 L518.39,255.95 L518.76,256.90 L519.11,257.85 L519.43,258.80 L519.71,259.76 L519.94,260.71 L520.11,261.66 L520.23,262.61 L520.29,263.56 L520.30,264.00 L520.29,264.52 L520.22,265.47 L520.09,266.42 L519.90,267.37 L519.65,268.33 L519.35,269.28 L519.01,270.23 L518.65,271.18 L518.25,272.13 L517.85,273.09 L517.44,274.04 L517.03,274.99 L516.63,275.94 L516.25,276.90 L515.89,277.85 L515.55,278.80 L515.25,279.75 L514.97,280.70 L514.72,281.66 L514.50,282.61 L514.30,283.56 L514.14,284.51 L514.00,285.46 L513.88,286.42 L513.78,287.37 L513.70,288.32 L513.63,289.27 L513.58,290.23 L513.54,291.18 L513.50,292.13 L513.30,292.13 L513.26,291.18 L513.22,290.23 L513.17,289.27 L513.10,288.32 L513.02,287.37 L512.92,286.42 L512.80,285.46 L512.66,284.51 L512.50,283.56 L512.30,282.61 L512.08,281.66 L511.83,280.70 L511.55,279.75 L511.25,278.80 L510.91,277.85 L510.55,276.90 L510.17,275.94 L509.77,274.99 L509.36,274.04 L508.95,273.09 L508.55,272.13 L508.15,271.18 L507.79,270.23 L507.45,269.28 L507.15,268.33 L506.90,267.37 L506.71,266.42 L506.58,265.47 L506.51,264.52 L506.50,264.00 L506.51,263.56 L506.57,262.61 L506.69,261.66 L506.86,260.71 L507.09,259.76 L507.37,258.80 L507.69,257.85 L508.04,256.90 L508.41,255.95 L508.80,255.00 L509.20,254.04 L509.59,253.09 L509.99,252.14 L510.36,251.19 L510.72,250.23 L511.06,249.28 L511.38,248.33 L511.67,247.38 L511.93,246.43 L512.16,245.47 L512.36,244.52 L512.54,243.57 L512.70,242.62 L512.83,241.67 L512.94,240.71 L513.03,239.76 L513.11,238.81 L513.17,237.86 L513.22,236.90 L513.26,235.95 L513.30,235.00Z" fill="#ffa01e" fill-opacity="0.36"/>
<path d="M517.50,242.30 L517.53,243.53 L517.57,244.76 L517.62,245.98 L517.69,247.21 L517.76,248.44 L517.85,249.67 L517.96,250.89 L518.09,252.12 L518.24,253.35 L518.42,254.58 L518.62,255.80 L518.85,257.03 L519.10,258.26 L519.39,259.49 L519.70,260.72 L520.03,261.94 L520.38,263.17 L520.76,264.40 L521.14,265.63 L521.54,266.85 L521.93,268.08 L522.32,269.31 L522.69,270.54 L523.05,271.76 L523.37,272.99 L523.65,274.22 L523.89,275.45 L524.08,276.67 L524.21,277.90 L524.28,279.13 L524.30,280.00 L524.30,280.36 L524.24,281.59 L524.12,282.81 L523.94,284.04 L523.70,285.27 L523.42,286.50 L523.08,287.72 L522.72,288.95 L522.33,290.18 L521.92,291.41 L521.51,292.63 L521.09,293.86 L520.69,295.09 L520.30,296.32 L519.94,297.54 L519.59,298.77 L519.28,300.00 L518.99,301.23 L518.74,302.46 L518.51,303.68 L518.32,304.91 L518.15,306.14 L518.00,307.37 L517.88,308.59 L517.78,309.82 L517.70,311.05 L517.63,312.28 L517.58,313.50 L517.54,314.73 L517.50,315.96 L517.30,315.96 L517.26,314.73 L517.22,313.50 L517.17,312.28 L517.10,311.05 L517.02,309.82 L516.92,308.59 L516.80,307.37 L516.65,306.14 L516.48,304.91 L516.29,303.68 L516.06,302.46 L515.81,301.23 L515.52,300.00 L515.21,298.77 L514.86,297.54 L514.50,296.32 L514.11,295.09 L513.71,293.86 L513.29,292.63 L512.88,291.41 L512.47,290.18 L512.08,288.95 L511.72,287.72 L511.38,286.50 L511.10,285.27 L510.86,284.04 L510.68,282.81 L510.56,281.59 L510.50,280.36 L510.50,280.00 L510.52,279.13 L510.59,277.90 L510.72,276.67 L510.91,275.45 L511.15,274.22 L511.43,272.99 L511.75,271.76 L512.11,270.54 L512.48,269.31 L512.87,268.08 L513.26,266.85 L513.66,265.63 L514.04,264.40 L514.42,263.17 L514.77,261.94 L515.10,260.72 L515.41,259.49 L515.70,258.26 L515.95,257.03 L516.18,255.80 L516.38,254.58 L516.56,253.35 L516.71,252.12 L516.84,250.89 L516.95,249.67 L517.04,248.44 L517.11,247.21 L517.18,245.98 L517.23,244.76 L517.27,243.53 L517.30,242.30Z" fill="#ff4619" fill-opacity="0.36"/>
<path d="M553.30,112.30 L553.33,114.23 L553.37,116.17 L553.41,118.10 L553.46,120.03 L553.52,121.97 L553.59,123.90 L553.68,125.83 L553.78,127.77 L553.89,129.70 L554.03,131.63 L554.18,133.57 L554.35,135.50 L554.55,137.43 L554.76,139.37 L555.00,141.30 L555.26,143.23 L555.54,145.17 L555.84,147.10 L556.15,149.03 L556.48,150.97 L556.82,152.90 L557.17,154.83 L557.52,156.77 L557.87,158.70 L558.22,160.63 L558.55,162.57 L558.86,164.50 L559.14,166.43 L559.40,168.37 L559.62,170.30 L559.81,172.23 L559.95,174.17 L560.05,176.10 L560.09,178.03 L560.10,179.00 L560.09,179.97 L560.00,181.90 L559.83,183.83 L559.57,185.77 L559.25,187.70 L558.87,189.63 L558.45,191.57 L558.00,193.50 L557.52,195.43 L557.05,197.37 L556.58,199.30 L556.13,201.23 L555.71,203.17 L555.32,205.10 L554.97,207.03 L554.66,208.97 L554.39,210.90 L554.15,212.83 L553.95,214.77 L553.79,216.70 L553.66,218.63 L553.55,220.57 L553.46,222.50 L553.39,224.43 L553.34,226.37 L553.30,228.30 L553.10,228.30 L553.06,226.37 L553.01,224.43 L552.94,222.50 L552.85,220.57 L552.74,218.63 L552.61,216.70 L552.45,214.77 L552.25,212.83 L552.01,210.90 L551.74,208.97 L551.43,207.03 L551.08,205.10 L550.69,203.17 L550.27,201.23 L549.82,199.30 L549.35,197.37 L548.88,195.43 L548.40,193.50 L547.95,191.57 L547.53,189.63 L547.15,187.70 L546.83,185.77 L546.57,183.83 L546.40,181.90 L546.31,179.97 L546.30,179.00 L546.31,178.03 L546.35,176.10 L546.45,174.17 L546.59,172.23 L546.78,170.30 L547.00,168.37 L547.26,166.43 L547.54,164.50 L547.85,162.57 L548.18,160.63 L548.53,158.70 L548.88,156.77 L549.23,154.83 L549.58,152.90 L549.92,150.97 L550.25,149.03 L550.56,147.10 L550.86,145.17 L551.14,143.23 L551.40,141.30 L551.64,139.37 L551.85,137.43 L552.05,135.50 L552.22,133.57 L552.37,131.63 L552.51,129.70 L552.62,127.77 L552.72,125.83 L552.81,123.90 L552.88,121.97 L552.94,120.03 L552.99,118.10 L553.03,116.17 L553.07,114.23 L553.10,112.30Z" fill="#3476b4" fill-opacity="0.36"/>
<path d="M557.30,153.10 L557.33,154.98 L557.37,156.87 L557.42,158.75 L557.47,160.64 L557.54,162.53 L557.62,164.41 L557.72,166.29 L557.84,168.18 L557.97,170.06 L558.13,171.95 L558.31,173.83 L558.51,175.72 L558.74,177.60 L558.99,179.49 L559.26,181.38 L559.56,183.26 L559.88,185.14 L560.22,187.03 L560.58,188.91 L560.95,190.80 L561.32,192.69 L561.70,194.57 L562.07,196.45 L562.43,198.34 L562.76,200.22 L563.08,202.11 L563.36,204.00 L563.60,205.88 L563.80,207.76 L563.95,209.65 L564.05,211.53 L564.10,213.42 L564.10,214.00 L564.08,215.31 L563.99,217.19 L563.83,219.07 L563.60,220.96 L563.32,222.84 L562.98,224.73 L562.60,226.62 L562.19,228.50 L561.76,230.38 L561.32,232.27 L560.89,234.16 L560.46,236.04 L560.05,237.93 L559.67,239.81 L559.31,241.69 L558.99,243.58 L558.70,245.46 L558.44,247.35 L558.22,249.23 L558.02,251.12 L557.86,253.00 L557.72,254.89 L557.61,256.77 L557.52,258.66 L557.44,260.54 L557.38,262.43 L557.34,264.31 L557.30,266.20 L557.10,266.20 L557.06,264.31 L557.02,262.43 L556.96,260.54 L556.88,258.66 L556.79,256.77 L556.68,254.89 L556.54,253.00 L556.38,251.12 L556.18,249.23 L555.96,247.35 L555.70,245.46 L555.41,243.58 L555.09,241.69 L554.73,239.81 L554.35,237.93 L553.94,236.04 L553.51,234.16 L553.08,232.27 L552.64,230.38 L552.21,228.50 L551.80,226.62 L551.42,224.73 L551.08,222.84 L550.80,220.96 L550.57,219.07 L550.41,217.19 L550.32,215.31 L550.30,214.00 L550.30,213.42 L550.35,211.53 L550.45,209.65 L550.60,207.76 L550.80,205.88 L551.04,204.00 L551.32,202.11 L551.64,200.22 L551.97,198.34 L552.33,196.45 L552.70,194.57 L553.08,192.69 L553.45,190.80 L553.82,188.91 L554.18,187.03 L554.52,185.14 L554.84,183.26 L555.14,181.38 L555.41,179.49 L555.66,177.60 L555.89,175.72 L556.09,173.83 L556.27,171.95 L556.43,170.06 L556.56,168.18 L556.68,166.29 L556.78,164.41 L556.86,162.53 L556.93,160.64 L556.98,158.75 L557.03,156.87 L557.07,154.98 L557.10,153.10Z" fill="#23be5f" fill-opacity="0.36"/>
<path d="M561.30,207.40 L561.33,208.71 L561.37,210.01 L561.42,211.31 L561.48,212.62 L561.56,213.93 L561.65,215.23 L561.75,216.53 L561.88,217.84 L562.02,219.15 L562.20,220.45 L562.39,221.75 L562.61,223.06 L562.86,224.37 L563.13,225.67 L563.43,226.97 L563.76,228.28 L564.11,229.59 L564.47,230.89 L564.85,232.19 L565.24,233.50 L565.63,234.81 L566.01,236.11 L566.38,237.41 L566.74,238.72 L567.07,240.03 L567.36,241.33 L567.61,242.63 L567.82,243.94 L567.97,245.25 L568.06,246.55 L568.10,247.85 L568.10,248.00 L568.07,249.16 L567.98,250.47 L567.82,251.77 L567.59,253.07 L567.32,254.38 L566.99,255.69 L566.63,256.99 L566.24,258.30 L565.83,259.60 L565.42,260.90 L565.00,262.21 L564.58,263.51 L564.19,264.82 L563.81,266.12 L563.46,267.43 L563.13,268.74 L562.84,270.04 L562.58,271.34 L562.34,272.65 L562.14,273.95 L561.97,275.26 L561.82,276.56 L561.69,277.87 L561.59,279.18 L561.50,280.48 L561.44,281.78 L561.38,283.09 L561.34,284.39 L561.30,285.70 L561.10,285.70 L561.06,284.39 L561.02,283.09 L560.96,281.78 L560.90,280.48 L560.81,279.18 L560.71,277.87 L560.58,276.56 L560.43,275.26 L560.26,273.95 L560.06,272.65 L559.82,271.34 L559.56,270.04 L559.27,268.74 L558.94,267.43 L558.59,266.12 L558.21,264.82 L557.82,263.51 L557.40,262.21 L556.98,260.90 L556.57,259.60 L556.16,258.30 L555.77,256.99 L555.41,255.69 L555.08,254.38 L554.81,253.07 L554.58,251.77 L554.42,250.47 L554.33,249.16 L554.30,248.00 L554.30,247.85 L554.34,246.55 L554.43,245.25 L554.58,243.94 L554.79,242.63 L555.04,241.33 L555.33,240.03 L555.66,238.72 L556.02,237.41 L556.39,236.11 L556.77,234.81 L557.16,233.50 L557.55,232.19 L557.93,230.89 L558.29,229.59 L558.64,228.28 L558.97,226.97 L559.27,225.67 L559.54,224.37 L559.79,223.06 L560.01,221.75 L560.20,220.45 L560.38,219.15 L560.52,217.84 L560.65,216.53 L560.75,215.23 L560.84,213.93 L560.92,212.62 L560.98,211.31 L561.03,210.01 L561.07,208.71 L561.10,207.40Z" fill="#ffa01e" fill-opacity="0.36"/>
<path d="M565.30,225.15 L565.33,226.47 L565.36,227.79 L565.40,229.11 L565.45,230.43 L565.50,231.75 L565.57,233.07 L565.65,234.39 L565.74,235.71 L565.84,237.03 L565.96,238.34 L566.10,239.66 L566.25,240.98 L566.42,242.30 L566.61,243.62 L566.83,244.94 L567.06,246.26 L567.31,247.58 L567.57,248.90 L567.86,250.22 L568.16,251.54 L568.48,252.86 L568.80,254.18 L569.13,255.50 L569.47,256.82 L569.80,258.14 L570.13,259.46 L570.44,260.78 L570.75,262.10 L571.03,263.42 L571.29,264.74 L571.51,266.05 L571.71,267.37 L571.87,268.69 L571.99,270.01 L572.06,271.33 L572.10,272.65 L572.10,273.00 L572.07,273.97 L571.95,275.29 L571.73,276.61 L571.42,277.93 L571.04,279.25 L570.60,280.57 L570.12,281.89 L569.61,283.21 L569.10,284.53 L568.60,285.85 L568.12,287.17 L567.67,288.49 L567.26,289.81 L566.89,291.12 L566.56,292.44 L566.29,293.76 L566.05,295.08 L565.86,296.40 L565.70,297.72 L565.58,299.04 L565.48,300.36 L565.40,301.68 L565.35,303.00 L565.30,304.32 L565.10,304.32 L565.05,303.00 L565.00,301.68 L564.92,300.36 L564.82,299.04 L564.70,297.72 L564.54,296.40 L564.35,295.08 L564.11,293.76 L563.84,292.44 L563.51,291.12 L563.14,289.81 L562.73,288.49 L562.28,287.17 L561.80,285.85 L561.30,284.53 L560.79,283.21 L560.28,281.89 L559.80,280.57 L559.36,279.25 L558.98,277.93 L558.67,276.61 L558.45,275.29 L558.33,273.97 L558.30,273.00 L558.30,272.65 L558.34,271.33 L558.41,270.01 L558.53,268.69 L558.69,267.37 L558.89,266.05 L559.11,264.74 L559.37,263.42 L559.65,262.10 L559.96,260.78 L560.27,259.46 L560.60,258.14 L560.93,256.82 L561.27,255.50 L561.60,254.18 L561.92,252.86 L562.24,251.54 L562.54,250.22 L562.83,248.90 L563.09,247.58 L563.34,246.26 L563.57,244.94 L563.79,243.62 L563.98,242.30 L564.15,240.98 L564.30,239.66 L564.44,238.34 L564.56,237.03 L564.66,235.71 L564.75,234.39 L564.83,233.07 L564.90,231.75 L564.95,230.43 L565.00,229.11 L565.04,227.79 L565.07,226.47 L565.10,225.15Z" fill="#ff4619" fill-opacity="0.36"/>
<path d="M602.00,82.40 L602.04,84.84 L602.08,87.28 L602.14,89.73 L602.21,92.17 L602.30,94.61 L602.40,97.05 L602.53,99.49 L602.68,101.93 L602.86,104.38 L603.07,106.82 L603.31,109.26 L603.58,111.70 L603.89,114.14 L604.22,116.58 L604.58,119.03 L604.97,121.47 L605.38,123.91 L605.80,126.35 L606.22,128.79 L606.65,131.23 L607.06,133.68 L607.44,136.12 L607.80,138.56 L608.11,141.00 L608.37,143.44 L608.58,145.88 L608.72,148.32 L608.79,150.77 L608.80,152.00 L608.80,153.21 L608.80,155.65 L608.80,158.09 L608.80,160.53 L608.80,162.98 L608.80,165.42 L608.80,167.86 L608.80,168.00 L608.76,170.30 L608.63,172.74 L608.41,175.18 L608.11,177.62 L607.75,180.07 L607.34,182.51 L606.88,184.95 L606.40,187.39 L605.92,189.83 L605.44,192.28 L604.97,194.72 L604.53,197.16 L604.12,199.60 L603.75,202.04 L603.43,204.48 L603.14,206.93 L602.89,209.37 L602.68,211.81 L602.51,214.25 L602.37,216.69 L602.26,219.13 L602.17,221.58 L602.10,224.02 L602.04,226.46 L602.00,228.90 L601.80,228.90 L601.76,226.46 L601.70,224.02 L601.63,221.58 L601.54,219.13 L601.43,216.69 L601.29,214.25 L601.12,211.81 L600.91,209.37 L600.66,206.93 L600.37,204.48 L600.05,202.04 L599.68,199.60 L599.27,197.16 L598.83,194.72 L598.36,192.28 L597.88,189.83 L597.40,187.39 L596.92,184.95 L596.46,182.51 L596.05,180.07 L595.69,177.62 L595.39,175.18 L595.17,172.74 L595.04,170.30 L595.00,168.00 L595.00,167.86 L595.00,165.42 L595.00,162.98 L595.00,160.53 L595.00,158.09 L595.00,155.65 L595.00,153.21 L595.00,152.00 L595.01,150.77 L595.08,148.32 L595.22,145.88 L595.43,143.44 L595.69,141.00 L596.00,138.56 L596.36,136.12 L596.74,133.68 L597.15,131.23 L597.58,128.79 L598.00,126.35 L598.42,123.91 L598.83,121.47 L599.22,119.03 L599.58,116.58 L599.91,114.14 L600.22,111.70 L600.49,109.26 L600.73,106.82 L600.94,104.38 L601.12,101.93 L601.27,99.49 L601.40,97.05 L601.50,94.61 L601.59,92.17 L601.66,89.73 L601.72,87.28 L601.76,84.84 L601.80,82.40Z" fill="#3476b4" fill-opacity="0.36"/>
<path d="M606.00,151.76 L606.04,153.47 L606.09,155.18 L606.15,156.89 L606.23,158.60 L606.33,160.30 L606.46,162.01 L606.61,163.72 L606.79,165.43 L607.00,167.14 L607.25,168.85 L607.54,170.56 L607.86,172.27 L608.22,173.98 L608.61,175.69 L609.03,177.39 L609.47,179.10 L609.93,180.81 L610.39,182.52 L610.84,184.23 L611.27,185.94 L611.67,187.65 L612.02,189.36 L612.32,191.07 L612.55,192.78 L612.71,194.49 L612.79,196.19 L612.80,197.00 L612.80,197.90 L612.80,199.61 L612.80,201.32 L612.80,203.03 L612.80,204.74 L612.80,205.00 L612.78,206.45 L612.68,208.16 L612.52,209.87 L612.30,211.57 L612.03,213.28 L611.71,214.99 L611.34,216.70 L610.95,218.41 L610.55,220.12 L610.13,221.83 L609.71,223.54 L609.29,225.25 L608.90,226.96 L608.52,228.67 L608.17,230.37 L607.84,232.08 L607.54,233.79 L607.28,235.50 L607.05,237.21 L606.84,238.92 L606.67,240.63 L606.52,242.34 L606.39,244.05 L606.29,245.75 L606.20,247.46 L606.14,249.17 L606.08,250.88 L606.04,252.59 L606.00,254.30 L605.80,254.30 L605.76,252.59 L605.72,250.88 L605.66,249.17 L605.60,247.46 L605.51,245.75 L605.41,244.05 L605.28,242.34 L605.13,240.63 L604.96,238.92 L604.75,237.21 L604.52,235.50 L604.26,233.79 L603.96,232.08 L603.63,230.37 L603.28,228.67 L602.90,226.96 L602.51,225.25 L602.09,223.54 L601.67,221.83 L601.25,220.12 L600.85,218.41 L600.46,216.70 L600.09,214.99 L599.77,213.28 L599.50,211.57 L599.28,209.87 L599.12,208.16 L599.02,206.45 L599.00,205.00 L599.00,204.74 L599.00,203.03 L599.00,201.32 L599.00,199.61 L599.00,197.90 L599.00,197.00 L599.01,196.19 L599.09,194.49 L599.25,192.78 L599.48,191.07 L599.78,189.36 L600.13,187.65 L600.53,185.94 L600.96,184.23 L601.41,182.52 L601.87,180.81 L602.33,179.10 L602.77,177.39 L603.19,175.69 L603.58,173.98 L603.94,172.27 L604.26,170.56 L604.55,168.85 L604.80,167.14 L605.01,165.43 L605.19,163.72 L605.34,162.01 L605.47,160.30 L605.57,158.60 L605.65,156.89 L605.71,155.18 L605.76,153.47 L605.80,151.76Z" fill="#23be5f" fill-opacity="0.36"/>
<path d="M610.00,199.20 L610.04,200.60 L610.10,202.00 L610.17,203.41 L610.26,204.81 L610.37,206.21 L610.51,207.61 L610.69,209.01 L610.90,210.41 L611.15,211.81 L611.44,213.22 L611.77,214.62 L612.15,216.02 L612.56,217.42 L613.00,218.82 L613.47,220.22 L613.95,221.63 L614.44,223.03 L614.92,224.43 L615.37,225.83 L615.79,227.23 L616.14,228.63 L616.43,230.04 L616.64,231.44 L616.77,232.84 L616.80,234.00 L616.80,234.24 L616.77,235.64 L616.69,237.05 L616.57,238.45 L616.40,239.85 L616.20,241.25 L615.96,242.65 L615.69,244.05 L615.40,245.45 L615.08,246.86 L614.75,248.26 L614.41,249.66 L614.07,251.06 L613.73,252.46 L613.39,253.87 L613.06,255.27 L612.74,256.67 L612.43,258.07 L612.15,259.47 L611.88,260.87 L611.63,262.27 L611.40,263.68 L611.20,265.08 L611.01,266.48 L610.85,267.88 L610.70,269.28 L610.57,270.69 L610.46,272.09 L610.36,273.49 L610.28,274.89 L610.21,276.29 L610.15,277.69 L610.10,279.10 L610.06,280.50 L610.03,281.90 L610.00,283.30 L609.80,283.30 L609.77,281.90 L609.74,280.50 L609.70,279.10 L609.65,277.69 L609.59,276.29 L609.52,274.89 L609.44,273.49 L609.34,272.09 L609.23,270.69 L609.10,269.28 L608.95,267.88 L608.79,266.48 L608.60,265.08 L608.40,263.68 L608.17,262.27 L607.92,260.87 L607.65,259.47 L607.37,258.07 L607.06,256.67 L606.74,255.27 L606.41,253.87 L606.07,252.46 L605.73,251.06 L605.39,249.66 L605.05,248.26 L604.72,246.86 L604.40,245.45 L604.11,244.05 L603.84,242.65 L603.60,241.25 L603.40,239.85 L603.23,238.45 L603.11,237.05 L603.03,235.64 L603.00,234.24 L603.00,234.00 L603.03,232.84 L603.16,231.44 L603.37,230.04 L603.66,228.63 L604.01,227.23 L604.43,225.83 L604.88,224.43 L605.36,223.03 L605.85,221.63 L606.33,220.22 L606.80,218.82 L607.24,217.42 L607.65,216.02 L608.03,214.62 L608.36,213.22 L608.65,211.81 L608.90,210.41 L609.11,209.01 L609.29,207.61 L609.43,206.21 L609.54,204.81 L609.63,203.41 L609.70,202.00 L609.76,200.60 L609.80,199.20Z" fill="#ffa01e" fill-opacity="0.36"/>
<path d="M614.00,203.50 L614.03,205.05 L614.06,206.60 L614.10,208.16 L614.14,209.71 L614.19,211.26 L614.26,212.81 L614.33,214.36 L614.41,215.91 L614.51,217.47 L614.62,219.02 L614.75,220.57 L614.89,222.12 L615.05,223.67 L615.23,225.22 L615.43,226.78 L615.64,228.33 L615.88,229.88 L616.13,231.43 L616.40,232.98 L616.68,234.53 L616.98,236.09 L617.29,237.64 L617.60,239.19 L617.93,240.74 L618.25,242.29 L618.57,243.84 L618.89,245.40 L619.20,246.95 L619.49,248.50 L619.76,250.05 L620.00,251.60 L620.22,253.15 L620.41,254.71 L620.57,256.26 L620.68,257.81 L620.76,259.36 L620.80,260.91 L620.80,261.50 L620.80,262.46 L620.80,264.01 L620.80,265.57 L620.80,267.12 L620.80,268.67 L620.80,270.22 L620.80,270.50 L620.73,271.77 L620.47,273.33 L620.03,274.88 L619.45,276.43 L618.78,277.98 L618.07,279.53 L617.36,281.08 L616.68,282.63 L616.07,284.19 L615.55,285.74 L615.11,287.29 L614.76,288.84 L614.50,290.39 L614.30,291.95 L614.16,293.50 L614.07,295.05 L614.00,296.60 L613.80,296.60 L613.73,295.05 L613.64,293.50 L613.50,291.95 L613.30,290.39 L613.04,288.84 L612.69,287.29 L612.25,285.74 L611.73,284.19 L611.12,282.63 L610.44,281.08 L609.73,279.53 L609.02,277.98 L608.35,276.43 L607.77,274.88 L607.33,273.33 L607.07,271.77 L607.00,270.50 L607.00,270.22 L607.00,268.67 L607.00,267.12 L607.00,265.57 L607.00,264.01 L607.00,262.46 L607.00,261.50 L607.00,260.91 L607.04,259.36 L607.12,257.81 L607.23,256.26 L607.39,254.71 L607.58,253.15 L607.80,251.60 L608.04,250.05 L608.31,248.50 L608.60,246.95 L608.91,245.40 L609.23,243.84 L609.55,242.29 L609.87,240.74 L610.20,239.19 L610.51,237.64 L610.82,236.09 L611.12,234.53 L611.40,232.98 L611.67,231.43 L611.92,229.88 L612.16,228.33 L612.37,226.78 L612.57,225.22 L612.75,223.67 L612.91,222.12 L613.05,220.57 L613.18,219.02 L613.29,217.47 L613.39,215.91 L613.47,214.36 L613.54,212.81 L613.61,211.26 L613.66,209.71 L613.70,208.16 L613.74,206.60 L613.77,205.05 L613.80,203.50Z" fill="#ff4619" fill-opacity="0.36"/>
<line x1="373.20" y1="296.9" x2="373.20" y2="335.7" stroke="#3476b4" stroke-width="1.4" stroke-opacity="0.85"/>
<rect x="370.95" y="314.4" width="4.5" height="14.90" fill="#3476b4"/>
<circle cx="373.20" cy="323.7" r="2.0" fill="#fff"/>
<line x1="377.20" y1="300.1" x2="377.20" y2="337.4" stroke="#23be5f" stroke-width="1.4" stroke-opacity="0.85"/>
<rect x="374.95" y="313.0" width="4.5" height="16.70" fill="#23be5f"/>
<circle cx="377.20" cy="321.9" r="2.0" fill="#fff"/>
<line x1="381.20" y1="336.7" x2="381.20" y2="359.6" stroke="#ffa01e" stroke-width="1.4" stroke-opacity="0.85"/>
<rect x="378.95" y="346.3" width="4.5" height="8.10" fill="#ffa01e"/>
<circle cx="381.20" cy="350.4" r="2.0" fill="#fff"/>
<line x1="385.20" y1="332.1" x2="385.20" y2="359.1" stroke="#ff4619" stroke-width="1.4" stroke-opacity="0.85"/>
<rect x="382.95" y="345.4" width="4.5" height="9.40" fill="#ff4619"/>
<circle cx="385.20" cy="350.4" r="2.0" fill="#fff"/>
<line x1="414.40" y1="212.3" x2="414.40" y2="285.0" stroke="#3476b4" stroke-width="1.4" stroke-opacity="0.85"/>
<rect x="412.15" y="244.3" width="4.5" height="27.90" fill="#3476b4"/>
<circle cx="414.40" cy="259.2" r="2.0" fill="#fff"/>
<line x1="418.40" y1="220.2" x2="418.40" y2="297.4" stroke="#23be5f" stroke-width="1.4" stroke-opacity="0.85"/>
<rect x="416.15" y="253.3" width="4.5" height="26.30" fill="#23be5f"/>
<circle cx="418.40" cy="269.9" r="2.0" fill="#fff"/>
<line x1="422.40" y1="267.6" x2="422.40" y2="325.6" stroke="#ffa01e" stroke-width="1.4" stroke-opacity="0.85"/>
<rect x="420.15" y="290.0" width="4.5" height="22.80" fill="#ffa01e"/>
<circle cx="422.40" cy="303.3" r="2.0" fill="#fff"/>
<line x1="426.40" y1="280.2" x2="426.40" y2="329.4" stroke="#ff4619" stroke-width="1.4" stroke-opacity="0.85"/>
<rect x="424.15" y="302.9" width="4.5" height="18.60" fill="#ff4619"/>
<circle cx="426.40" cy="314.1" r="2.0" fill="#fff"/>
<line x1="458.95" y1="157.8" x2="458.95" y2="252.8" stroke="#3476b4" stroke-width="1.4" stroke-opacity="0.85"/>
<rect x="456.70" y="196.9" width="4.5" height="38.60" fill="#3476b4"/>
<circle cx="458.95" cy="219.1" r="2.0" fill="#fff"/>
<line x1="462.95" y1="184.2" x2="462.95" y2="265.8" stroke="#23be5f" stroke-width="1.4" stroke-opacity="0.85"/>
<rect x="460.70" y="217.8" width="4.5" height="34.00" fill="#23be5f"/>
<circle cx="462.95" cy="237.7" r="2.0" fill="#fff"/>
<line x1="466.95" y1="240.0" x2="466.95" y2="301.8" stroke="#ffa01e" stroke-width="1.4" stroke-opacity="0.85"/>
<rect x="464.70" y="262.1" width="4.5" height="26.20" fill="#ffa01e"/>
<circle cx="466.95" cy="274.9" r="2.0" fill="#fff"/>
<line x1="470.95" y1="255.0" x2="470.95" y2="312.8" stroke="#ff4619" stroke-width="1.4" stroke-opacity="0.85"/>
<rect x="468.70" y="277.8" width="4.5" height="22.80" fill="#ff4619"/>
<circle cx="470.95" cy="289.2" r="2.0" fill="#fff"/>
<line x1="505.40" y1="115.1" x2="505.40" y2="235.5" stroke="#3476b4" stroke-width="1.4" stroke-opacity="0.85"/>
<rect x="503.15" y="164.9" width="4.5" height="46.50" fill="#3476b4"/>
<circle cx="505.40" cy="193.2" r="2.0" fill="#fff"/>
<line x1="509.40" y1="151.4" x2="509.40" y2="256.1" stroke="#23be5f" stroke-width="1.4" stroke-opacity="0.85"/>
<rect x="507.15" y="196.1" width="4.5" height="41.70" fill="#23be5f"/>
<circle cx="509.40" cy="220.2" r="2.0" fill="#fff"/>
<line x1="513.40" y1="206.9" x2="513.40" y2="289.3" stroke="#ffa01e" stroke-width="1.4" stroke-opacity="0.85"/>
<rect x="511.15" y="239.7" width="4.5" height="32.80" fill="#ffa01e"/>
<circle cx="513.40" cy="260.2" r="2.0" fill="#fff"/>
<line x1="517.40" y1="237.1" x2="517.40" y2="303.1" stroke="#ff4619" stroke-width="1.4" stroke-opacity="0.85"/>
<rect x="515.15" y="262.2" width="4.5" height="27.50" fill="#ff4619"/>
<circle cx="517.40" cy="278.2" r="2.0" fill="#fff"/>
<line x1="553.20" y1="80.1" x2="553.20" y2="218.8" stroke="#3476b4" stroke-width="1.4" stroke-opacity="0.85"/>
<rect x="550.95" y="150.0" width="4.5" height="49.60" fill="#3476b4"/>
<circle cx="553.20" cy="177.7" r="2.0" fill="#fff"/>
<line x1="557.20" y1="161.0" x2="557.20" y2="247.7" stroke="#23be5f" stroke-width="1.4" stroke-opacity="0.85"/>
<rect x="554.95" y="189.0" width="4.5" height="39.40" fill="#23be5f"/>
<circle cx="557.20" cy="211.7" r="2.0" fill="#fff"/>
<line x1="561.20" y1="190.0" x2="561.20" y2="280.8" stroke="#ffa01e" stroke-width="1.4" stroke-opacity="0.85"/>
<rect x="558.95" y="227.2" width="4.5" height="34.70" fill="#ffa01e"/>
<circle cx="561.20" cy="246.5" r="2.0" fill="#fff"/>
<line x1="565.20" y1="209.5" x2="565.20" y2="296.3" stroke="#ff4619" stroke-width="1.4" stroke-opacity="0.85"/>
<rect x="562.95" y="251.3" width="4.5" height="29.80" fill="#ff4619"/>
<circle cx="565.20" cy="270.2" r="2.0" fill="#fff"/>
<line x1="601.90" y1="78.0" x2="601.90" y2="207.7" stroke="#3476b4" stroke-width="1.4" stroke-opacity="0.85"/>
<rect x="599.65" y="127.0" width="4.5" height="58.50" fill="#3476b4"/>
<circle cx="601.90" cy="158.9" r="2.0" fill="#fff"/>
<line x1="605.90" y1="140.8" x2="605.90" y2="251.3" stroke="#23be5f" stroke-width="1.4" stroke-opacity="0.85"/>
<rect x="603.65" y="180.7" width="4.5" height="45.00" fill="#23be5f"/>
<circle cx="605.90" cy="203.8" r="2.0" fill="#fff"/>
<line x1="609.90" y1="156.5" x2="609.90" y2="269.7" stroke="#ffa01e" stroke-width="1.4" stroke-opacity="0.85"/>
<rect x="607.65" y="219.2" width="4.5" height="34.30" fill="#ffa01e"/>
<circle cx="609.90" cy="236.3" r="2.0" fill="#fff"/>
<line x1="613.90" y1="218.3" x2="613.90" y2="290.8" stroke="#ff4619" stroke-width="1.4" stroke-opacity="0.85"/>
<rect x="611.65" y="248.1" width="4.5" height="30.60" fill="#ff4619"/>
<circle cx="613.90" cy="265.6" r="2.0" fill="#fff"/>
<path d="M132.97,19 Q236.4,161.85 324.0,304.7" fill="none" stroke="#111" stroke-width="1.95" stroke-dasharray="5.643 2.44" stroke-dashoffset="1.34"/>
<rect x="53.5" y="19.0" width="283.60" height="357.30" fill="none" stroke="#d4d4d4" stroke-width="1.25"/>
<line x1="79.5" y1="19.0" x2="79.5" y2="23.3" stroke="#8a8a8a" stroke-width="1"/>
<line x1="120.6" y1="19.0" x2="120.6" y2="23.3" stroke="#8a8a8a" stroke-width="1"/>
<line x1="165.5" y1="19.0" x2="165.5" y2="23.3" stroke="#8a8a8a" stroke-width="1"/>
<line x1="211.8" y1="19.0" x2="211.8" y2="23.3" stroke="#8a8a8a" stroke-width="1"/>
<line x1="259.5" y1="19.0" x2="259.5" y2="23.3" stroke="#8a8a8a" stroke-width="1"/>
<line x1="308.5" y1="19.0" x2="308.5" y2="23.3" stroke="#8a8a8a" stroke-width="1"/>
<rect x="352.9" y="19.0" width="283.60" height="357.30" fill="none" stroke="#d4d4d4" stroke-width="1.25"/>
<line x1="379.2" y1="19.0" x2="379.2" y2="23.3" stroke="#8a8a8a" stroke-width="1"/>
<line x1="420.4" y1="19.0" x2="420.4" y2="23.3" stroke="#8a8a8a" stroke-width="1"/>
<line x1="464.95" y1="19.0" x2="464.95" y2="23.3" stroke="#8a8a8a" stroke-width="1"/>
<line x1="511.4" y1="19.0" x2="511.4" y2="23.3" stroke="#8a8a8a" stroke-width="1"/>
<line x1="559.2" y1="19.0" x2="559.2" y2="23.3" stroke="#8a8a8a" stroke-width="1"/>
<line x1="607.9" y1="19.0" x2="607.9" y2="23.3" stroke="#8a8a8a" stroke-width="1"/>
<text x="80.00" y="11.40" font-size="14.6" text-anchor="middle">10<tspan dy="-4.8" font-size="11.2" dx="0.7" letter-spacing="0.25">4.5</tspan></text>
<text x="121.10" y="11.40" font-size="14.6" text-anchor="middle">10<tspan dy="-4.8" font-size="11.2" dx="0.7" letter-spacing="0.25">6.1</tspan></text>
<text x="166.00" y="11.40" font-size="14.6" text-anchor="middle">10<tspan dy="-4.8" font-size="11.2" dx="0.7" letter-spacing="0.25">7.9</tspan></text>
<text x="212.30" y="11.40" font-size="14.6" text-anchor="middle">10<tspan dy="-4.8" font-size="11.2" dx="0.7" letter-spacing="0.25">9.7</tspan></text>
<text x="260.00" y="11.40" font-size="14.6" text-anchor="middle">10<tspan dy="-4.8" font-size="11.2" dx="0.7" letter-spacing="0.25">11.6</tspan></text>
<text x="309.00" y="11.40" font-size="14.6" text-anchor="middle">10<tspan dy="-4.8" font-size="11.2" dx="0.7" letter-spacing="0.25">13.6</tspan></text>
<text x="68.20" y="391.80" font-size="14.6" text-anchor="middle">10<tspan dy="-5.3" font-size="10.3">4</tspan></text>
<text x="118.44" y="391.80" font-size="14.6" text-anchor="middle">10<tspan dy="-5.3" font-size="10.3">6</tspan></text>
<text x="168.68" y="391.80" font-size="14.6" text-anchor="middle">10<tspan dy="-5.3" font-size="10.3">8</tspan></text>
<text x="218.02" y="391.80" font-size="14.6" text-anchor="middle">10<tspan dy="-5.3" font-size="10.3">10</tspan></text>
<text x="268.26" y="391.80" font-size="14.6" text-anchor="middle">10<tspan dy="-5.3" font-size="10.3">12</tspan></text>
<text x="318.50" y="391.80" font-size="14.6" text-anchor="middle">10<tspan dy="-5.3" font-size="10.3">14</tspan></text>
<text x="379.70" y="11.40" font-size="14.6" text-anchor="middle">10<tspan dy="-4.8" font-size="11.2" dx="0.7" letter-spacing="0.25">4.5</tspan></text>
<text x="420.90" y="11.40" font-size="14.6" text-anchor="middle">10<tspan dy="-4.8" font-size="11.2" dx="0.7" letter-spacing="0.25">6.1</tspan></text>
<text x="465.45" y="11.40" font-size="14.6" text-anchor="middle">10<tspan dy="-4.8" font-size="11.2" dx="0.7" letter-spacing="0.25">7.9</tspan></text>
<text x="511.90" y="11.40" font-size="14.6" text-anchor="middle">10<tspan dy="-4.8" font-size="11.2" dx="0.7" letter-spacing="0.25">9.7</tspan></text>
<text x="559.70" y="11.40" font-size="14.6" text-anchor="middle">10<tspan dy="-4.8" font-size="11.2" dx="0.7" letter-spacing="0.25">11.6</tspan></text>
<text x="608.40" y="11.40" font-size="14.6" text-anchor="middle">10<tspan dy="-4.8" font-size="11.2" dx="0.7" letter-spacing="0.25">13.6</tspan></text>
<text x="367.80" y="391.80" font-size="14.6" text-anchor="middle">10<tspan dy="-5.3" font-size="10.3">4</tspan></text>
<text x="418.04" y="391.80" font-size="14.6" text-anchor="middle">10<tspan dy="-5.3" font-size="10.3">6</tspan></text>
<text x="468.28" y="391.80" font-size="14.6" text-anchor="middle">10<tspan dy="-5.3" font-size="10.3">8</tspan></text>
<text x="517.62" y="391.80" font-size="14.6" text-anchor="middle">10<tspan dy="-5.3" font-size="10.3">10</tspan></text>
<text x="567.86" y="391.80" font-size="14.6" text-anchor="middle">10<tspan dy="-5.3" font-size="10.3">12</tspan></text>
<text x="618.10" y="391.80" font-size="14.6" text-anchor="middle">10<tspan dy="-5.3" font-size="10.3">14</tspan></text>
<text x="33.9" y="86.60" font-size="14.6" text-anchor="end">10</text>
<rect x="34.3" y="78.65" width="6.7" height="0.85" fill="#2a2a2a"/>
<text x="45.1" y="82.00" font-size="10.3" text-anchor="middle">1</text>
<text x="33.9" y="175.97" font-size="14.6" text-anchor="end">10</text>
<rect x="34.3" y="168.02" width="6.7" height="0.85" fill="#2a2a2a"/>
<text x="45.1" y="171.37" font-size="10.3" text-anchor="middle">2</text>
<text x="33.9" y="265.34" font-size="14.6" text-anchor="end">10</text>
<rect x="34.3" y="257.39" width="6.7" height="0.85" fill="#2a2a2a"/>
<text x="45.1" y="260.74" font-size="10.3" text-anchor="middle">3</text>
<text x="33.9" y="354.71" font-size="14.6" text-anchor="end">10</text>
<rect x="34.3" y="346.76" width="6.7" height="0.85" fill="#2a2a2a"/>
<text x="45.1" y="350.11" font-size="10.3" text-anchor="middle">4</text>
<text x="641.8" y="314.50" font-size="14.6">0.1</text>
<text x="641.8" y="235.30" font-size="14.6">0.2</text>
<text x="641.8" y="156.10" font-size="14.6">0.3</text>
<text x="641.8" y="76.90" font-size="14.6">0.4</text>
<text x="195.30" y="409.9" font-size="15" text-anchor="middle" textLength="125" lengthAdjust="spacingAndGlyphs">Number of samples</text>
<text x="494.70" y="409.9" font-size="15" text-anchor="middle" textLength="125" lengthAdjust="spacingAndGlyphs">Number of samples</text>
<text transform="translate(9.9,250.7) rotate(-90)" x="0" y="0" font-size="15" textLength="107" lengthAdjust="spacingAndGlyphs">Recovery error <tspan font-style="italic">ϵ</tspan></text>
<g transform="translate(677.3,269.4) rotate(-90)"><text x="0" y="0" font-size="15" textLength="109.4" lengthAdjust="spacingAndGlyphs">Performance gap</text><rect x="116.6" y="-4.7" width="27" height="0.8" fill="#262626"/><text x="116.7" y="-6.0" font-size="10.5" font-style="italic">ϵ</text><text x="124.0" y="-5.2" font-size="7.4" font-style="italic" textLength="17.0" lengthAdjust="spacingAndGlyphs">sim</text><text x="116.7" y="5.6" font-size="10.5" font-style="italic">ϵ</text><text x="122.6" y="4.4" font-size="7.6" font-style="italic" textLength="20.5" lengthAdjust="spacingAndGlyphs">pred</text></g>
<rect x="42.3" y="425.1" width="600.4" height="41" rx="3" ry="3" fill="#fff" stroke="#d4d4d4" stroke-width="1.2"/>
<line x1="47.1" y1="434.7" x2="74.1" y2="434.7" stroke="#528cc0" stroke-width="4.6"/>
<text x="85.3" y="439.90" font-size="15" textLength="100.2" lengthAdjust="spacingAndGlyphs">No optimization</text>
<line x1="47.1" y1="453.4" x2="74.1" y2="453.4" stroke="#50cd7d" stroke-width="4.6"/>
<text x="85.3" y="458.60" font-size="15" textLength="89.3" lengthAdjust="spacingAndGlyphs">Optimzation 2</text>
<line x1="212.8" y1="434.7" x2="239.8" y2="434.7" stroke="#ffb04b" stroke-width="4.6"/>
<text x="250.5" y="439.90" font-size="15" textLength="93.7" lengthAdjust="spacingAndGlyphs">Optimization 3</text>
<line x1="212.8" y1="453.4" x2="239.8" y2="453.4" stroke="#ff684b" stroke-width="4.6"/>
<text x="250.5" y="458.60" font-size="15" textLength="133.1" lengthAdjust="spacingAndGlyphs">Optimization 2 and 3</text>
<line x1="410.8" y1="434.9" x2="438.2" y2="434.9" stroke="#111" stroke-width="1.9" stroke-dasharray="5.6 2.45"/>
<text x="449.3" y="440.1" font-size="15" textLength="153.5" lengthAdjust="spacingAndGlyphs">Theoretical upper bound</text>
<text x="608.5" y="439.7" font-size="14" font-style="italic">ϵ</text>
<text x="614.6" y="441.8" font-size="10.5" font-style="italic" textLength="22.6" lengthAdjust="spacingAndGlyphs">pred</text>
</svg></body></html>
